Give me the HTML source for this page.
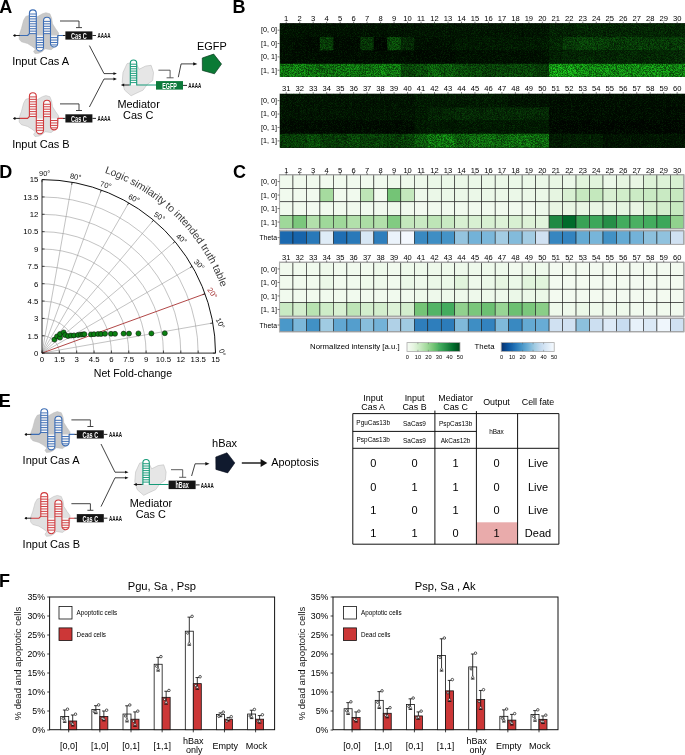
<!DOCTYPE html>
<html lang="en"><head><meta charset="utf-8"><title>Figure</title>
<style>html,body{margin:0;padding:0;background:#fff}svg{display:block}text{font-family:'Liberation Sans', sans-serif}</style>
</head><body>
<svg width="685" height="755" viewBox="0 0 685 755">
<defs><filter id="speckle" x="0" y="0" width="1" height="1" color-interpolation-filters="sRGB"><feTurbulence type="fractalNoise" baseFrequency="1.37" numOctaves="2" seed="11" result="n"/><feColorMatrix in="n" type="matrix" values="3.0 0 0 0 -1.0  3.0 0 0 0 -1.0  3.0 0 0 0 -1.0  0 0 0 0 1" result="sym"/><feComposite in="SourceGraphic" in2="sym" operator="arithmetic" k1="0.8" k2="0.6" k3="0" k4="0" result="t1"/><feColorMatrix in="n" type="matrix" values="0 3.0 0 0 -1.0  0 3.0 0 0 -1.0  0 3.0 0 0 -1.0  0 0 0 0 1" result="m0"/><feComponentTransfer in="m0" result="m1"><feFuncR type="gamma" exponent="3" amplitude="0.15" offset="0"/><feFuncG type="gamma" exponent="3" amplitude="1" offset="0"/><feFuncB type="gamma" exponent="3" amplitude="0.15" offset="0"/></feComponentTransfer><feComposite in="t1" in2="m1" operator="arithmetic" k1="0" k2="1" k3="0.08" k4="0"/></filter></defs>
<rect width="685" height="755" fill="#fff"/>
<text x="-0.70" y="12.70" font-size="18" text-anchor="start" font-weight="bold" fill="#000" >A</text>
<text x="232.50" y="12.80" font-size="18" text-anchor="start" font-weight="bold" fill="#000" >B</text>
<text x="233.00" y="178.10" font-size="18" text-anchor="start" font-weight="bold" fill="#000" >C</text>
<text x="-0.80" y="177.80" font-size="18" text-anchor="start" font-weight="bold" fill="#000" >D</text>
<text x="-1.20" y="406.90" font-size="18" text-anchor="start" font-weight="bold" fill="#000" >E</text>
<text x="-1.00" y="587.10" font-size="18" text-anchor="start" font-weight="bold" fill="#000" >F</text>
<g transform="translate(0.00,0.00)">
<polygon points="19.2,34.8 21.4,28.6 23.6,20.3 25.8,16.4 28.8,15.5 33.0,15.8 37.2,16.8 42.4,13.8 45.9,12.7 49.9,13.8 51.6,18.1 52.5,23.8 55.5,28.6 58.6,33.0 58.2,40.0 55.5,46.2 51.2,49.7 45.0,48.8 42.4,51.4 38.9,53.2 35.0,53.6 33.6,51.4 35.5,49.0 31.9,46.2 27.5,43.5 21.4,41.8 19.2,39.2" fill="#c9c9c9" stroke="#b8b8b8" stroke-width="0.5" stroke-linejoin="round"/>
<path d="M29.4,33.5V13.35A3.45,3.45 0 0 1 36.3,13.35V33.5Z M36.3,35.5V47.4A3.6,3.6 0 0 0 43.5,47.4V35.5Z M43.5,33.5V20.8A3.5,3.5 0 0 1 50.5,20.8V33.5Z M50.5,35.5V43.4A3.6,3.6 0 0 0 57.7,43.4V35.5Z" fill="#ffffff" fill-opacity="0.85"/>
<path d="M29.40,14.00H36.30M29.40,16.45H36.30M29.40,18.90H36.30M29.40,21.35H36.30M29.40,23.80H36.30M29.40,26.25H36.30M29.40,28.70H36.30M29.40,31.15H36.30M29.40,33.60H36.30" stroke="#3b6cb4" stroke-width="0.95" fill="none"/>
<path d="M36.30,37.60H43.50M36.30,40.05H43.50M36.30,42.50H43.50M36.30,44.95H43.50M36.30,47.40H43.50" stroke="#3b6cb4" stroke-width="0.95" fill="none"/>
<path d="M43.50,21.40H50.50M43.50,23.85H50.50M43.50,26.30H50.50M43.50,28.75H50.50M43.50,31.20H50.50M43.50,33.65H50.50" stroke="#3b6cb4" stroke-width="0.95" fill="none"/>
<path d="M50.50,37.60H57.70M50.50,40.05H57.70M50.50,42.50H57.70M50.50,44.95H57.70" stroke="#3b6cb4" stroke-width="0.95" fill="none"/>
<path d="M19.6,35.5H27.6L29.4,33.6V13.35A3.45,3.45 0 0 1 36.3,13.35V47.4A3.6,3.6 0 0 0 43.5,47.4V20.8A3.5,3.5 0 0 1 50.5,20.8V43.4A3.6,3.6 0 0 0 57.7,43.4V35.5H63.2" fill="none" stroke="#3b6cb4" stroke-width="1.1" stroke-linejoin="round"/>
<path d="M15,35.5H19.8M63,35.5H65.5M92.4,35.5H96" stroke="#111" stroke-width="0.9" fill="none"/>
<path d="M12.9,35.5L15.4,34.2V36.8Z" fill="#111"/><circle cx="14.6" cy="35.5" r="1.0" fill="#111"/>
<rect x="65.4" y="31.4" width="27" height="8.2" fill="#151515"/>
<text transform="translate(78.9,38.9) scale(0.6,1)" font-size="9.2" font-weight="bold" text-anchor="middle" fill="#fff">Cas C</text>
<text transform="translate(97.5,38.1) scale(0.62,1)" font-size="7.3" font-weight="bold" fill="#111">AAAA</text>
<path d="M60,21.0H79V27.4M76,27.6H82" stroke="#222" stroke-width="0.85" fill="none"/>
</g>
<g transform="translate(0.00,82.90)">
<polygon points="19.2,34.8 21.4,28.6 23.6,20.3 25.8,16.4 28.8,15.5 33.0,15.8 37.2,16.8 42.4,13.8 45.9,12.7 49.9,13.8 51.6,18.1 52.5,23.8 55.5,28.6 58.6,33.0 58.2,40.0 55.5,46.2 51.2,49.7 45.0,48.8 42.4,51.4 38.9,53.2 35.0,53.6 33.6,51.4 35.5,49.0 31.9,46.2 27.5,43.5 21.4,41.8 19.2,39.2" fill="#e0e0e0" stroke="#b8b8b8" stroke-width="0.5" stroke-linejoin="round"/>
<path d="M29.4,33.5V13.35A3.45,3.45 0 0 1 36.3,13.35V33.5Z M36.3,35.5V47.4A3.6,3.6 0 0 0 43.5,47.4V35.5Z M43.5,33.5V20.8A3.5,3.5 0 0 1 50.5,20.8V33.5Z M50.5,35.5V43.4A3.6,3.6 0 0 0 57.7,43.4V35.5Z" fill="#ffffff" fill-opacity="0.85"/>
<path d="M29.40,14.00H36.30M29.40,16.45H36.30M29.40,18.90H36.30M29.40,21.35H36.30M29.40,23.80H36.30M29.40,26.25H36.30M29.40,28.70H36.30M29.40,31.15H36.30M29.40,33.60H36.30" stroke="#cf3a3d" stroke-width="0.95" fill="none"/>
<path d="M36.30,37.60H43.50M36.30,40.05H43.50M36.30,42.50H43.50M36.30,44.95H43.50M36.30,47.40H43.50" stroke="#cf3a3d" stroke-width="0.95" fill="none"/>
<path d="M43.50,21.40H50.50M43.50,23.85H50.50M43.50,26.30H50.50M43.50,28.75H50.50M43.50,31.20H50.50M43.50,33.65H50.50" stroke="#cf3a3d" stroke-width="0.95" fill="none"/>
<path d="M50.50,37.60H57.70M50.50,40.05H57.70M50.50,42.50H57.70M50.50,44.95H57.70" stroke="#cf3a3d" stroke-width="0.95" fill="none"/>
<path d="M19.6,35.5H27.6L29.4,33.6V13.35A3.45,3.45 0 0 1 36.3,13.35V47.4A3.6,3.6 0 0 0 43.5,47.4V20.8A3.5,3.5 0 0 1 50.5,20.8V43.4A3.6,3.6 0 0 0 57.7,43.4V35.5H63.2" fill="none" stroke="#cf3a3d" stroke-width="1.1" stroke-linejoin="round"/>
<path d="M15,35.5H19.8M63,35.5H65.5M92.4,35.5H96" stroke="#111" stroke-width="0.9" fill="none"/>
<path d="M12.9,35.5L15.4,34.2V36.8Z" fill="#111"/><circle cx="14.6" cy="35.5" r="1.0" fill="#111"/>
<rect x="65.4" y="31.4" width="27" height="8.2" fill="#151515"/>
<text transform="translate(78.9,38.9) scale(0.6,1)" font-size="9.2" font-weight="bold" text-anchor="middle" fill="#fff">Cas C</text>
<text transform="translate(97.5,38.1) scale(0.62,1)" font-size="7.3" font-weight="bold" fill="#111">AAAA</text>
<path d="M60,21.0H79V27.4M76,27.6H82" stroke="#222" stroke-width="0.85" fill="none"/>
</g>
<text x="12.20" y="65.00" font-size="11.0" text-anchor="start" font-weight="normal" fill="#000" >Input Cas A</text>
<text x="12.20" y="148.40" font-size="11.0" text-anchor="start" font-weight="normal" fill="#000" >Input Cas B</text>
<path d="M89.4,45.6L104,73.6H114.5M89.4,107L104,79H114.5" fill="none" stroke="#111" stroke-width="0.8"/>
<path d="M116.90,73.60L113.45,74.98L113.45,72.22Z" fill="#111"/>
<path d="M116.90,79.00L113.45,80.38L113.45,77.62Z" fill="#111"/>
<g transform="translate(0.00,0.00)">
<polygon points="127.0,63.7 123.0,72.5 122.2,82.1 124.6,90.1 131.1,95.8 135.9,93.4 143.1,90.1 147.1,84.5 152.7,80.5 153.5,72.5 151.1,65.3 145.5,66.1 139.1,69.3 136.7,64.5 132.0,62.5" fill="#e6e6e6" stroke="#bdbdbd" stroke-width="0.6" stroke-linejoin="round"/>
<path d="M130.3,85V63.2A3.2,3.2 0 0 1 136.7,63.2V85Z" fill="#fff" fill-opacity="0.85"/>
<path d="M130.30,64.20H136.70M130.30,66.50H136.70M130.30,68.80H136.70M130.30,71.10H136.70M130.30,73.40H136.70M130.30,75.70H136.70M130.30,78.00H136.70M130.30,80.30H136.70M130.30,82.60H136.70" stroke="#159a78" stroke-width="0.95" fill="none"/>
<path d="M129,85H130.3V63.2A3.2,3.2 0 0 1 136.7,63.2V85H156" fill="none" stroke="#159a78" stroke-width="1.1" stroke-linejoin="round"/>
<path d="M123,85H129.2M183,85.4H187" stroke="#111" stroke-width="0.9" fill="none"/>
<path d="M120.8,85L124.2,83.4V86.6Z" fill="#111"/>
<rect x="156" y="81.1" width="27" height="8.5" fill="#0b7a3a"/>
<text transform="translate(169.5,88.55) scale(0.63,1)" font-size="8.5" font-weight="bold" text-anchor="middle" fill="#fff">EGFP</text>
<text transform="translate(188.2,88.0) scale(0.62,1)" font-size="7.3" font-weight="bold" fill="#111">AAAA</text>
<path d="M158.4,70.2H170.1V77.6M166.6,77.8H173.6" stroke="#333" stroke-width="0.8" fill="none"/>
</g>
<text x="138.60" y="107.60" font-size="10.9" text-anchor="middle" font-weight="normal" fill="#000" >Mediator</text>
<text x="138.20" y="119.30" font-size="10.9" text-anchor="middle" font-weight="normal" fill="#000" >Cas C</text>
<path d="M178.3,77.2L181.1,63.9H195" fill="none" stroke="#111" stroke-width="0.8"/>
<path d="M197.40,63.90L193.20,65.58L193.20,62.22Z" fill="#111"/>
<polygon points="213.7,54.1 221.5,64.05 214.45,73.8 202.4,70.4 202.3,58" fill="#0b7a35" stroke="#0a3a1e" stroke-width="0.7" stroke-linejoin="round"/>
<text x="197.00" y="49.70" font-size="10.9" text-anchor="start" font-weight="normal" fill="#000" >EGFP</text>
<g id="bimg1">
<rect x="279.90" y="23.50" width="13.38" height="13.80" fill="#000d00"/>
<rect x="292.98" y="23.50" width="13.78" height="13.80" fill="#000d00"/>
<rect x="306.46" y="23.50" width="13.78" height="13.80" fill="#000d00"/>
<rect x="319.94" y="23.50" width="13.78" height="13.80" fill="#000d00"/>
<rect x="333.42" y="23.50" width="13.78" height="13.80" fill="#000d00"/>
<rect x="346.90" y="23.50" width="13.78" height="13.80" fill="#000d00"/>
<rect x="360.38" y="23.50" width="13.78" height="13.80" fill="#000d00"/>
<rect x="373.86" y="23.50" width="13.78" height="13.80" fill="#000d00"/>
<rect x="387.34" y="23.50" width="13.78" height="13.80" fill="#010f01"/>
<rect x="400.82" y="23.50" width="13.78" height="13.80" fill="#010f01"/>
<rect x="414.30" y="23.50" width="13.78" height="13.80" fill="#011001"/>
<rect x="427.78" y="23.50" width="13.78" height="13.80" fill="#011001"/>
<rect x="441.26" y="23.50" width="13.78" height="13.80" fill="#011001"/>
<rect x="454.74" y="23.50" width="13.78" height="13.80" fill="#011001"/>
<rect x="468.22" y="23.50" width="13.78" height="13.80" fill="#011001"/>
<rect x="481.70" y="23.50" width="13.78" height="13.80" fill="#011001"/>
<rect x="495.18" y="23.50" width="13.78" height="13.80" fill="#011001"/>
<rect x="508.66" y="23.50" width="13.78" height="13.80" fill="#011001"/>
<rect x="522.14" y="23.50" width="13.78" height="13.80" fill="#011001"/>
<rect x="535.62" y="23.50" width="13.78" height="13.80" fill="#011001"/>
<rect x="549.10" y="23.50" width="13.78" height="13.80" fill="#031b03"/>
<rect x="562.58" y="23.50" width="13.78" height="13.80" fill="#031b03"/>
<rect x="576.06" y="23.50" width="13.78" height="13.80" fill="#031f03"/>
<rect x="589.54" y="23.50" width="13.78" height="13.80" fill="#031f03"/>
<rect x="603.02" y="23.50" width="13.78" height="13.80" fill="#031d03"/>
<rect x="616.50" y="23.50" width="13.78" height="13.80" fill="#031f03"/>
<rect x="629.98" y="23.50" width="13.78" height="13.80" fill="#031d03"/>
<rect x="643.46" y="23.50" width="13.78" height="13.80" fill="#031f03"/>
<rect x="656.94" y="23.50" width="13.78" height="13.80" fill="#031f03"/>
<rect x="670.42" y="23.50" width="14.58" height="13.80" fill="#031f03"/>
<rect x="279.90" y="37.00" width="13.38" height="13.70" fill="#000c00"/>
<rect x="292.98" y="37.00" width="13.78" height="13.70" fill="#000900"/>
<rect x="306.46" y="37.00" width="13.78" height="13.70" fill="#000700"/>
<rect x="319.94" y="37.00" width="13.78" height="13.70" fill="#063406"/>
<rect x="333.42" y="37.00" width="13.78" height="13.70" fill="#000700"/>
<rect x="346.90" y="37.00" width="13.78" height="13.70" fill="#000700"/>
<rect x="360.38" y="37.00" width="13.78" height="13.70" fill="#052d05"/>
<rect x="373.86" y="37.00" width="13.78" height="13.70" fill="#000400"/>
<rect x="387.34" y="37.00" width="13.78" height="13.70" fill="#084008"/>
<rect x="400.82" y="37.00" width="13.78" height="13.70" fill="#042204"/>
<rect x="414.30" y="37.00" width="13.78" height="13.70" fill="#000c00"/>
<rect x="427.78" y="37.00" width="13.78" height="13.70" fill="#000c00"/>
<rect x="441.26" y="37.00" width="13.78" height="13.70" fill="#000c00"/>
<rect x="454.74" y="37.00" width="13.78" height="13.70" fill="#011401"/>
<rect x="468.22" y="37.00" width="13.78" height="13.70" fill="#011401"/>
<rect x="481.70" y="37.00" width="13.78" height="13.70" fill="#011401"/>
<rect x="495.18" y="37.00" width="13.78" height="13.70" fill="#011401"/>
<rect x="508.66" y="37.00" width="13.78" height="13.70" fill="#011401"/>
<rect x="522.14" y="37.00" width="13.78" height="13.70" fill="#011401"/>
<rect x="535.62" y="37.00" width="13.78" height="13.70" fill="#011401"/>
<rect x="549.10" y="37.00" width="13.78" height="13.70" fill="#032103"/>
<rect x="562.58" y="37.00" width="13.78" height="13.70" fill="#063006"/>
<rect x="576.06" y="37.00" width="13.78" height="13.70" fill="#073707"/>
<rect x="589.54" y="37.00" width="13.78" height="13.70" fill="#073707"/>
<rect x="603.02" y="37.00" width="13.78" height="13.70" fill="#063206"/>
<rect x="616.50" y="37.00" width="13.78" height="13.70" fill="#063206"/>
<rect x="629.98" y="37.00" width="13.78" height="13.70" fill="#063206"/>
<rect x="643.46" y="37.00" width="13.78" height="13.70" fill="#063206"/>
<rect x="656.94" y="37.00" width="13.78" height="13.70" fill="#063206"/>
<rect x="670.42" y="37.00" width="14.58" height="13.70" fill="#063206"/>
<rect x="279.90" y="50.40" width="13.38" height="13.70" fill="#000900"/>
<rect x="292.98" y="50.40" width="13.78" height="13.70" fill="#000900"/>
<rect x="306.46" y="50.40" width="13.78" height="13.70" fill="#000900"/>
<rect x="319.94" y="50.40" width="13.78" height="13.70" fill="#000900"/>
<rect x="333.42" y="50.40" width="13.78" height="13.70" fill="#000900"/>
<rect x="346.90" y="50.40" width="13.78" height="13.70" fill="#000900"/>
<rect x="360.38" y="50.40" width="13.78" height="13.70" fill="#000900"/>
<rect x="373.86" y="50.40" width="13.78" height="13.70" fill="#000900"/>
<rect x="387.34" y="50.40" width="13.78" height="13.70" fill="#000b00"/>
<rect x="400.82" y="50.40" width="13.78" height="13.70" fill="#000900"/>
<rect x="414.30" y="50.40" width="13.78" height="13.70" fill="#000700"/>
<rect x="427.78" y="50.40" width="13.78" height="13.70" fill="#000700"/>
<rect x="441.26" y="50.40" width="13.78" height="13.70" fill="#000700"/>
<rect x="454.74" y="50.40" width="13.78" height="13.70" fill="#000c00"/>
<rect x="468.22" y="50.40" width="13.78" height="13.70" fill="#000c00"/>
<rect x="481.70" y="50.40" width="13.78" height="13.70" fill="#000c00"/>
<rect x="495.18" y="50.40" width="13.78" height="13.70" fill="#000c00"/>
<rect x="508.66" y="50.40" width="13.78" height="13.70" fill="#000c00"/>
<rect x="522.14" y="50.40" width="13.78" height="13.70" fill="#000c00"/>
<rect x="535.62" y="50.40" width="13.78" height="13.70" fill="#000c00"/>
<rect x="549.10" y="50.40" width="13.78" height="13.70" fill="#021902"/>
<rect x="562.58" y="50.40" width="13.78" height="13.70" fill="#031d03"/>
<rect x="576.06" y="50.40" width="13.78" height="13.70" fill="#031f03"/>
<rect x="589.54" y="50.40" width="13.78" height="13.70" fill="#031f03"/>
<rect x="603.02" y="50.40" width="13.78" height="13.70" fill="#031f03"/>
<rect x="616.50" y="50.40" width="13.78" height="13.70" fill="#032103"/>
<rect x="629.98" y="50.40" width="13.78" height="13.70" fill="#031f03"/>
<rect x="643.46" y="50.40" width="13.78" height="13.70" fill="#032103"/>
<rect x="656.94" y="50.40" width="13.78" height="13.70" fill="#032103"/>
<rect x="670.42" y="50.40" width="14.58" height="13.70" fill="#042304"/>
<rect x="279.90" y="63.80" width="13.38" height="13.10" fill="#0f6e0f"/>
<rect x="292.98" y="63.80" width="13.78" height="13.10" fill="#107410"/>
<rect x="306.46" y="63.80" width="13.78" height="13.10" fill="#0e690e"/>
<rect x="319.94" y="63.80" width="13.78" height="13.10" fill="#0e640e"/>
<rect x="333.42" y="63.80" width="13.78" height="13.10" fill="#0e690e"/>
<rect x="346.90" y="63.80" width="13.78" height="13.10" fill="#0e690e"/>
<rect x="360.38" y="63.80" width="13.78" height="13.10" fill="#0e640e"/>
<rect x="373.86" y="63.80" width="13.78" height="13.10" fill="#0f6e0f"/>
<rect x="387.34" y="63.80" width="13.78" height="13.10" fill="#0e690e"/>
<rect x="400.82" y="63.80" width="13.78" height="13.10" fill="#083e08"/>
<rect x="414.30" y="63.80" width="13.78" height="13.10" fill="#094409"/>
<rect x="427.78" y="63.80" width="13.78" height="13.10" fill="#0b570b"/>
<rect x="441.26" y="63.80" width="13.78" height="13.10" fill="#0b500b"/>
<rect x="454.74" y="63.80" width="13.78" height="13.10" fill="#094409"/>
<rect x="468.22" y="63.80" width="13.78" height="13.10" fill="#083e08"/>
<rect x="481.70" y="63.80" width="13.78" height="13.10" fill="#073807"/>
<rect x="495.18" y="63.80" width="13.78" height="13.10" fill="#083e08"/>
<rect x="508.66" y="63.80" width="13.78" height="13.10" fill="#083e08"/>
<rect x="522.14" y="63.80" width="13.78" height="13.10" fill="#083e08"/>
<rect x="535.62" y="63.80" width="13.78" height="13.10" fill="#063206"/>
<rect x="549.10" y="63.80" width="13.78" height="13.10" fill="#148e14"/>
<rect x="562.58" y="63.80" width="13.78" height="13.10" fill="#148e14"/>
<rect x="576.06" y="63.80" width="13.78" height="13.10" fill="#117e11"/>
<rect x="589.54" y="63.80" width="13.78" height="13.10" fill="#117e11"/>
<rect x="603.02" y="63.80" width="13.78" height="13.10" fill="#117e11"/>
<rect x="616.50" y="63.80" width="13.78" height="13.10" fill="#117e11"/>
<rect x="629.98" y="63.80" width="13.78" height="13.10" fill="#117e11"/>
<rect x="643.46" y="63.80" width="13.78" height="13.10" fill="#117e11"/>
<rect x="656.94" y="63.80" width="13.78" height="13.10" fill="#117e11"/>
<rect x="670.42" y="63.80" width="14.58" height="13.10" fill="#107410"/>
</g>
<use href="#bimg1" filter="url(#speckle)"/>
<text x="286.24" y="21.00" font-size="7.6" text-anchor="middle" font-weight="normal" fill="#000" >1</text>
<line x1="286.24" y1="21.70" x2="286.24" y2="23.50" stroke="#222" stroke-width="0.6"/>
<text x="299.72" y="21.00" font-size="7.6" text-anchor="middle" font-weight="normal" fill="#000" >2</text>
<line x1="299.72" y1="21.70" x2="299.72" y2="23.50" stroke="#222" stroke-width="0.6"/>
<text x="313.20" y="21.00" font-size="7.6" text-anchor="middle" font-weight="normal" fill="#000" >3</text>
<line x1="313.20" y1="21.70" x2="313.20" y2="23.50" stroke="#222" stroke-width="0.6"/>
<text x="326.68" y="21.00" font-size="7.6" text-anchor="middle" font-weight="normal" fill="#000" >4</text>
<line x1="326.68" y1="21.70" x2="326.68" y2="23.50" stroke="#222" stroke-width="0.6"/>
<text x="340.16" y="21.00" font-size="7.6" text-anchor="middle" font-weight="normal" fill="#000" >5</text>
<line x1="340.16" y1="21.70" x2="340.16" y2="23.50" stroke="#222" stroke-width="0.6"/>
<text x="353.64" y="21.00" font-size="7.6" text-anchor="middle" font-weight="normal" fill="#000" >6</text>
<line x1="353.64" y1="21.70" x2="353.64" y2="23.50" stroke="#222" stroke-width="0.6"/>
<text x="367.12" y="21.00" font-size="7.6" text-anchor="middle" font-weight="normal" fill="#000" >7</text>
<line x1="367.12" y1="21.70" x2="367.12" y2="23.50" stroke="#222" stroke-width="0.6"/>
<text x="380.60" y="21.00" font-size="7.6" text-anchor="middle" font-weight="normal" fill="#000" >8</text>
<line x1="380.60" y1="21.70" x2="380.60" y2="23.50" stroke="#222" stroke-width="0.6"/>
<text x="394.08" y="21.00" font-size="7.6" text-anchor="middle" font-weight="normal" fill="#000" >9</text>
<line x1="394.08" y1="21.70" x2="394.08" y2="23.50" stroke="#222" stroke-width="0.6"/>
<text x="407.56" y="21.00" font-size="7.6" text-anchor="middle" font-weight="normal" fill="#000" >10</text>
<line x1="407.56" y1="21.70" x2="407.56" y2="23.50" stroke="#222" stroke-width="0.6"/>
<text x="421.04" y="21.00" font-size="7.6" text-anchor="middle" font-weight="normal" fill="#000" >11</text>
<line x1="421.04" y1="21.70" x2="421.04" y2="23.50" stroke="#222" stroke-width="0.6"/>
<text x="434.52" y="21.00" font-size="7.6" text-anchor="middle" font-weight="normal" fill="#000" >12</text>
<line x1="434.52" y1="21.70" x2="434.52" y2="23.50" stroke="#222" stroke-width="0.6"/>
<text x="448.00" y="21.00" font-size="7.6" text-anchor="middle" font-weight="normal" fill="#000" >13</text>
<line x1="448.00" y1="21.70" x2="448.00" y2="23.50" stroke="#222" stroke-width="0.6"/>
<text x="461.48" y="21.00" font-size="7.6" text-anchor="middle" font-weight="normal" fill="#000" >14</text>
<line x1="461.48" y1="21.70" x2="461.48" y2="23.50" stroke="#222" stroke-width="0.6"/>
<text x="474.96" y="21.00" font-size="7.6" text-anchor="middle" font-weight="normal" fill="#000" >15</text>
<line x1="474.96" y1="21.70" x2="474.96" y2="23.50" stroke="#222" stroke-width="0.6"/>
<text x="488.44" y="21.00" font-size="7.6" text-anchor="middle" font-weight="normal" fill="#000" >16</text>
<line x1="488.44" y1="21.70" x2="488.44" y2="23.50" stroke="#222" stroke-width="0.6"/>
<text x="501.92" y="21.00" font-size="7.6" text-anchor="middle" font-weight="normal" fill="#000" >17</text>
<line x1="501.92" y1="21.70" x2="501.92" y2="23.50" stroke="#222" stroke-width="0.6"/>
<text x="515.40" y="21.00" font-size="7.6" text-anchor="middle" font-weight="normal" fill="#000" >18</text>
<line x1="515.40" y1="21.70" x2="515.40" y2="23.50" stroke="#222" stroke-width="0.6"/>
<text x="528.88" y="21.00" font-size="7.6" text-anchor="middle" font-weight="normal" fill="#000" >19</text>
<line x1="528.88" y1="21.70" x2="528.88" y2="23.50" stroke="#222" stroke-width="0.6"/>
<text x="542.36" y="21.00" font-size="7.6" text-anchor="middle" font-weight="normal" fill="#000" >20</text>
<line x1="542.36" y1="21.70" x2="542.36" y2="23.50" stroke="#222" stroke-width="0.6"/>
<text x="555.84" y="21.00" font-size="7.6" text-anchor="middle" font-weight="normal" fill="#000" >21</text>
<line x1="555.84" y1="21.70" x2="555.84" y2="23.50" stroke="#222" stroke-width="0.6"/>
<text x="569.32" y="21.00" font-size="7.6" text-anchor="middle" font-weight="normal" fill="#000" >22</text>
<line x1="569.32" y1="21.70" x2="569.32" y2="23.50" stroke="#222" stroke-width="0.6"/>
<text x="582.80" y="21.00" font-size="7.6" text-anchor="middle" font-weight="normal" fill="#000" >23</text>
<line x1="582.80" y1="21.70" x2="582.80" y2="23.50" stroke="#222" stroke-width="0.6"/>
<text x="596.28" y="21.00" font-size="7.6" text-anchor="middle" font-weight="normal" fill="#000" >24</text>
<line x1="596.28" y1="21.70" x2="596.28" y2="23.50" stroke="#222" stroke-width="0.6"/>
<text x="609.76" y="21.00" font-size="7.6" text-anchor="middle" font-weight="normal" fill="#000" >25</text>
<line x1="609.76" y1="21.70" x2="609.76" y2="23.50" stroke="#222" stroke-width="0.6"/>
<text x="623.24" y="21.00" font-size="7.6" text-anchor="middle" font-weight="normal" fill="#000" >26</text>
<line x1="623.24" y1="21.70" x2="623.24" y2="23.50" stroke="#222" stroke-width="0.6"/>
<text x="636.72" y="21.00" font-size="7.6" text-anchor="middle" font-weight="normal" fill="#000" >27</text>
<line x1="636.72" y1="21.70" x2="636.72" y2="23.50" stroke="#222" stroke-width="0.6"/>
<text x="650.20" y="21.00" font-size="7.6" text-anchor="middle" font-weight="normal" fill="#000" >28</text>
<line x1="650.20" y1="21.70" x2="650.20" y2="23.50" stroke="#222" stroke-width="0.6"/>
<text x="663.68" y="21.00" font-size="7.6" text-anchor="middle" font-weight="normal" fill="#000" >29</text>
<line x1="663.68" y1="21.70" x2="663.68" y2="23.50" stroke="#222" stroke-width="0.6"/>
<text x="677.16" y="21.00" font-size="7.6" text-anchor="middle" font-weight="normal" fill="#000" >30</text>
<line x1="677.16" y1="21.70" x2="677.16" y2="23.50" stroke="#222" stroke-width="0.6"/>
<text x="277.00" y="32.48" font-size="7.2" text-anchor="end" font-weight="normal" fill="#000" >[0, 0]</text>
<line x1="277.6" y1="30.18" x2="279.50" y2="30.18" stroke="#222" stroke-width="0.6"/>
<text x="277.00" y="45.83" font-size="7.2" text-anchor="end" font-weight="normal" fill="#000" >[1, 0]</text>
<line x1="277.6" y1="43.53" x2="279.50" y2="43.53" stroke="#222" stroke-width="0.6"/>
<text x="277.00" y="59.17" font-size="7.2" text-anchor="end" font-weight="normal" fill="#000" >[0, 1]</text>
<line x1="277.6" y1="56.88" x2="279.50" y2="56.88" stroke="#222" stroke-width="0.6"/>
<text x="277.00" y="72.53" font-size="7.2" text-anchor="end" font-weight="normal" fill="#000" >[1, 1]</text>
<line x1="277.6" y1="70.23" x2="279.50" y2="70.23" stroke="#222" stroke-width="0.6"/>
<g id="bimg31">
<rect x="279.90" y="93.90" width="13.38" height="13.60" fill="#010f01"/>
<rect x="292.98" y="93.90" width="13.78" height="13.60" fill="#010f01"/>
<rect x="306.46" y="93.90" width="13.78" height="13.60" fill="#010f01"/>
<rect x="319.94" y="93.90" width="13.78" height="13.60" fill="#010f01"/>
<rect x="333.42" y="93.90" width="13.78" height="13.60" fill="#010f01"/>
<rect x="346.90" y="93.90" width="13.78" height="13.60" fill="#010f01"/>
<rect x="360.38" y="93.90" width="13.78" height="13.60" fill="#010f01"/>
<rect x="373.86" y="93.90" width="13.78" height="13.60" fill="#010f01"/>
<rect x="387.34" y="93.90" width="13.78" height="13.60" fill="#010f01"/>
<rect x="400.82" y="93.90" width="13.78" height="13.60" fill="#010f01"/>
<rect x="414.30" y="93.90" width="13.78" height="13.60" fill="#011401"/>
<rect x="427.78" y="93.90" width="13.78" height="13.60" fill="#011401"/>
<rect x="441.26" y="93.90" width="13.78" height="13.60" fill="#011401"/>
<rect x="454.74" y="93.90" width="13.78" height="13.60" fill="#011401"/>
<rect x="468.22" y="93.90" width="13.78" height="13.60" fill="#011401"/>
<rect x="481.70" y="93.90" width="13.78" height="13.60" fill="#011401"/>
<rect x="495.18" y="93.90" width="13.78" height="13.60" fill="#011401"/>
<rect x="508.66" y="93.90" width="13.78" height="13.60" fill="#010e01"/>
<rect x="522.14" y="93.90" width="13.78" height="13.60" fill="#010e01"/>
<rect x="535.62" y="93.90" width="13.78" height="13.60" fill="#010e01"/>
<rect x="549.10" y="93.90" width="13.78" height="13.60" fill="#000a00"/>
<rect x="562.58" y="93.90" width="13.78" height="13.60" fill="#000a00"/>
<rect x="576.06" y="93.90" width="13.78" height="13.60" fill="#000a00"/>
<rect x="589.54" y="93.90" width="13.78" height="13.60" fill="#000a00"/>
<rect x="603.02" y="93.90" width="13.78" height="13.60" fill="#000a00"/>
<rect x="616.50" y="93.90" width="13.78" height="13.60" fill="#000a00"/>
<rect x="629.98" y="93.90" width="13.78" height="13.60" fill="#000a00"/>
<rect x="643.46" y="93.90" width="13.78" height="13.60" fill="#000a00"/>
<rect x="656.94" y="93.90" width="13.78" height="13.60" fill="#000a00"/>
<rect x="670.42" y="93.90" width="14.58" height="13.60" fill="#000a00"/>
<rect x="279.90" y="107.20" width="13.38" height="13.60" fill="#010f01"/>
<rect x="292.98" y="107.20" width="13.78" height="13.60" fill="#010f01"/>
<rect x="306.46" y="107.20" width="13.78" height="13.60" fill="#010f01"/>
<rect x="319.94" y="107.20" width="13.78" height="13.60" fill="#010f01"/>
<rect x="333.42" y="107.20" width="13.78" height="13.60" fill="#010f01"/>
<rect x="346.90" y="107.20" width="13.78" height="13.60" fill="#010f01"/>
<rect x="360.38" y="107.20" width="13.78" height="13.60" fill="#010f01"/>
<rect x="373.86" y="107.20" width="13.78" height="13.60" fill="#010f01"/>
<rect x="387.34" y="107.20" width="13.78" height="13.60" fill="#010f01"/>
<rect x="400.82" y="107.20" width="13.78" height="13.60" fill="#010f01"/>
<rect x="414.30" y="107.20" width="13.78" height="13.60" fill="#011401"/>
<rect x="427.78" y="107.20" width="13.78" height="13.60" fill="#031b03"/>
<rect x="441.26" y="107.20" width="13.78" height="13.60" fill="#031f03"/>
<rect x="454.74" y="107.20" width="13.78" height="13.60" fill="#042204"/>
<rect x="468.22" y="107.20" width="13.78" height="13.60" fill="#042204"/>
<rect x="481.70" y="107.20" width="13.78" height="13.60" fill="#042204"/>
<rect x="495.18" y="107.20" width="13.78" height="13.60" fill="#042204"/>
<rect x="508.66" y="107.20" width="13.78" height="13.60" fill="#042204"/>
<rect x="522.14" y="107.20" width="13.78" height="13.60" fill="#042204"/>
<rect x="535.62" y="107.20" width="13.78" height="13.60" fill="#042204"/>
<rect x="549.10" y="107.20" width="13.78" height="13.60" fill="#000900"/>
<rect x="562.58" y="107.20" width="13.78" height="13.60" fill="#000900"/>
<rect x="576.06" y="107.20" width="13.78" height="13.60" fill="#000900"/>
<rect x="589.54" y="107.20" width="13.78" height="13.60" fill="#000900"/>
<rect x="603.02" y="107.20" width="13.78" height="13.60" fill="#000900"/>
<rect x="616.50" y="107.20" width="13.78" height="13.60" fill="#000900"/>
<rect x="629.98" y="107.20" width="13.78" height="13.60" fill="#000900"/>
<rect x="643.46" y="107.20" width="13.78" height="13.60" fill="#000900"/>
<rect x="656.94" y="107.20" width="13.78" height="13.60" fill="#000900"/>
<rect x="670.42" y="107.20" width="14.58" height="13.60" fill="#000900"/>
<rect x="279.90" y="120.50" width="13.38" height="13.60" fill="#000700"/>
<rect x="292.98" y="120.50" width="13.78" height="13.60" fill="#000700"/>
<rect x="306.46" y="120.50" width="13.78" height="13.60" fill="#000700"/>
<rect x="319.94" y="120.50" width="13.78" height="13.60" fill="#000700"/>
<rect x="333.42" y="120.50" width="13.78" height="13.60" fill="#000700"/>
<rect x="346.90" y="120.50" width="13.78" height="13.60" fill="#000700"/>
<rect x="360.38" y="120.50" width="13.78" height="13.60" fill="#000700"/>
<rect x="373.86" y="120.50" width="13.78" height="13.60" fill="#000700"/>
<rect x="387.34" y="120.50" width="13.78" height="13.60" fill="#000700"/>
<rect x="400.82" y="120.50" width="13.78" height="13.60" fill="#000700"/>
<rect x="414.30" y="120.50" width="13.78" height="13.60" fill="#011401"/>
<rect x="427.78" y="120.50" width="13.78" height="13.60" fill="#011401"/>
<rect x="441.26" y="120.50" width="13.78" height="13.60" fill="#011401"/>
<rect x="454.74" y="120.50" width="13.78" height="13.60" fill="#011401"/>
<rect x="468.22" y="120.50" width="13.78" height="13.60" fill="#011401"/>
<rect x="481.70" y="120.50" width="13.78" height="13.60" fill="#011401"/>
<rect x="495.18" y="120.50" width="13.78" height="13.60" fill="#011401"/>
<rect x="508.66" y="120.50" width="13.78" height="13.60" fill="#011401"/>
<rect x="522.14" y="120.50" width="13.78" height="13.60" fill="#011401"/>
<rect x="535.62" y="120.50" width="13.78" height="13.60" fill="#011401"/>
<rect x="549.10" y="120.50" width="13.78" height="13.60" fill="#000400"/>
<rect x="562.58" y="120.50" width="13.78" height="13.60" fill="#000400"/>
<rect x="576.06" y="120.50" width="13.78" height="13.60" fill="#000400"/>
<rect x="589.54" y="120.50" width="13.78" height="13.60" fill="#000400"/>
<rect x="603.02" y="120.50" width="13.78" height="13.60" fill="#000400"/>
<rect x="616.50" y="120.50" width="13.78" height="13.60" fill="#000400"/>
<rect x="629.98" y="120.50" width="13.78" height="13.60" fill="#000400"/>
<rect x="643.46" y="120.50" width="13.78" height="13.60" fill="#000400"/>
<rect x="656.94" y="120.50" width="13.78" height="13.60" fill="#000400"/>
<rect x="670.42" y="120.50" width="14.58" height="13.60" fill="#000400"/>
<rect x="279.90" y="133.80" width="13.38" height="13.80" fill="#063406"/>
<rect x="292.98" y="133.80" width="13.78" height="13.80" fill="#073907"/>
<rect x="306.46" y="133.80" width="13.78" height="13.80" fill="#084208"/>
<rect x="319.94" y="133.80" width="13.78" height="13.80" fill="#063406"/>
<rect x="333.42" y="133.80" width="13.78" height="13.80" fill="#063406"/>
<rect x="346.90" y="133.80" width="13.78" height="13.80" fill="#083e08"/>
<rect x="360.38" y="133.80" width="13.78" height="13.80" fill="#073907"/>
<rect x="373.86" y="133.80" width="13.78" height="13.80" fill="#073907"/>
<rect x="387.34" y="133.80" width="13.78" height="13.80" fill="#063406"/>
<rect x="400.82" y="133.80" width="13.78" height="13.80" fill="#073907"/>
<rect x="414.30" y="133.80" width="13.78" height="13.80" fill="#0b540b"/>
<rect x="427.78" y="133.80" width="13.78" height="13.80" fill="#0e690e"/>
<rect x="441.26" y="133.80" width="13.78" height="13.80" fill="#0f6e0f"/>
<rect x="454.74" y="133.80" width="13.78" height="13.80" fill="#0b540b"/>
<rect x="468.22" y="133.80" width="13.78" height="13.80" fill="#0d5f0d"/>
<rect x="481.70" y="133.80" width="13.78" height="13.80" fill="#0e640e"/>
<rect x="495.18" y="133.80" width="13.78" height="13.80" fill="#0c590c"/>
<rect x="508.66" y="133.80" width="13.78" height="13.80" fill="#0e640e"/>
<rect x="522.14" y="133.80" width="13.78" height="13.80" fill="#0e640e"/>
<rect x="535.62" y="133.80" width="13.78" height="13.80" fill="#0d5f0d"/>
<rect x="549.10" y="133.80" width="13.78" height="13.80" fill="#021502"/>
<rect x="562.58" y="133.80" width="13.78" height="13.80" fill="#021702"/>
<rect x="576.06" y="133.80" width="13.78" height="13.80" fill="#021902"/>
<rect x="589.54" y="133.80" width="13.78" height="13.80" fill="#021802"/>
<rect x="603.02" y="133.80" width="13.78" height="13.80" fill="#010e01"/>
<rect x="616.50" y="133.80" width="13.78" height="13.80" fill="#010e01"/>
<rect x="629.98" y="133.80" width="13.78" height="13.80" fill="#010f01"/>
<rect x="643.46" y="133.80" width="13.78" height="13.80" fill="#011001"/>
<rect x="656.94" y="133.80" width="13.78" height="13.80" fill="#011001"/>
<rect x="670.42" y="133.80" width="14.58" height="13.80" fill="#010f01"/>
</g>
<use href="#bimg31" filter="url(#speckle)"/>
<text x="286.24" y="91.40" font-size="7.6" text-anchor="middle" font-weight="normal" fill="#000" >31</text>
<line x1="286.24" y1="92.10" x2="286.24" y2="93.90" stroke="#222" stroke-width="0.6"/>
<text x="299.72" y="91.40" font-size="7.6" text-anchor="middle" font-weight="normal" fill="#000" >32</text>
<line x1="299.72" y1="92.10" x2="299.72" y2="93.90" stroke="#222" stroke-width="0.6"/>
<text x="313.20" y="91.40" font-size="7.6" text-anchor="middle" font-weight="normal" fill="#000" >33</text>
<line x1="313.20" y1="92.10" x2="313.20" y2="93.90" stroke="#222" stroke-width="0.6"/>
<text x="326.68" y="91.40" font-size="7.6" text-anchor="middle" font-weight="normal" fill="#000" >34</text>
<line x1="326.68" y1="92.10" x2="326.68" y2="93.90" stroke="#222" stroke-width="0.6"/>
<text x="340.16" y="91.40" font-size="7.6" text-anchor="middle" font-weight="normal" fill="#000" >35</text>
<line x1="340.16" y1="92.10" x2="340.16" y2="93.90" stroke="#222" stroke-width="0.6"/>
<text x="353.64" y="91.40" font-size="7.6" text-anchor="middle" font-weight="normal" fill="#000" >36</text>
<line x1="353.64" y1="92.10" x2="353.64" y2="93.90" stroke="#222" stroke-width="0.6"/>
<text x="367.12" y="91.40" font-size="7.6" text-anchor="middle" font-weight="normal" fill="#000" >37</text>
<line x1="367.12" y1="92.10" x2="367.12" y2="93.90" stroke="#222" stroke-width="0.6"/>
<text x="380.60" y="91.40" font-size="7.6" text-anchor="middle" font-weight="normal" fill="#000" >38</text>
<line x1="380.60" y1="92.10" x2="380.60" y2="93.90" stroke="#222" stroke-width="0.6"/>
<text x="394.08" y="91.40" font-size="7.6" text-anchor="middle" font-weight="normal" fill="#000" >39</text>
<line x1="394.08" y1="92.10" x2="394.08" y2="93.90" stroke="#222" stroke-width="0.6"/>
<text x="407.56" y="91.40" font-size="7.6" text-anchor="middle" font-weight="normal" fill="#000" >40</text>
<line x1="407.56" y1="92.10" x2="407.56" y2="93.90" stroke="#222" stroke-width="0.6"/>
<text x="421.04" y="91.40" font-size="7.6" text-anchor="middle" font-weight="normal" fill="#000" >41</text>
<line x1="421.04" y1="92.10" x2="421.04" y2="93.90" stroke="#222" stroke-width="0.6"/>
<text x="434.52" y="91.40" font-size="7.6" text-anchor="middle" font-weight="normal" fill="#000" >42</text>
<line x1="434.52" y1="92.10" x2="434.52" y2="93.90" stroke="#222" stroke-width="0.6"/>
<text x="448.00" y="91.40" font-size="7.6" text-anchor="middle" font-weight="normal" fill="#000" >43</text>
<line x1="448.00" y1="92.10" x2="448.00" y2="93.90" stroke="#222" stroke-width="0.6"/>
<text x="461.48" y="91.40" font-size="7.6" text-anchor="middle" font-weight="normal" fill="#000" >44</text>
<line x1="461.48" y1="92.10" x2="461.48" y2="93.90" stroke="#222" stroke-width="0.6"/>
<text x="474.96" y="91.40" font-size="7.6" text-anchor="middle" font-weight="normal" fill="#000" >45</text>
<line x1="474.96" y1="92.10" x2="474.96" y2="93.90" stroke="#222" stroke-width="0.6"/>
<text x="488.44" y="91.40" font-size="7.6" text-anchor="middle" font-weight="normal" fill="#000" >46</text>
<line x1="488.44" y1="92.10" x2="488.44" y2="93.90" stroke="#222" stroke-width="0.6"/>
<text x="501.92" y="91.40" font-size="7.6" text-anchor="middle" font-weight="normal" fill="#000" >47</text>
<line x1="501.92" y1="92.10" x2="501.92" y2="93.90" stroke="#222" stroke-width="0.6"/>
<text x="515.40" y="91.40" font-size="7.6" text-anchor="middle" font-weight="normal" fill="#000" >48</text>
<line x1="515.40" y1="92.10" x2="515.40" y2="93.90" stroke="#222" stroke-width="0.6"/>
<text x="528.88" y="91.40" font-size="7.6" text-anchor="middle" font-weight="normal" fill="#000" >49</text>
<line x1="528.88" y1="92.10" x2="528.88" y2="93.90" stroke="#222" stroke-width="0.6"/>
<text x="542.36" y="91.40" font-size="7.6" text-anchor="middle" font-weight="normal" fill="#000" >50</text>
<line x1="542.36" y1="92.10" x2="542.36" y2="93.90" stroke="#222" stroke-width="0.6"/>
<text x="555.84" y="91.40" font-size="7.6" text-anchor="middle" font-weight="normal" fill="#000" >51</text>
<line x1="555.84" y1="92.10" x2="555.84" y2="93.90" stroke="#222" stroke-width="0.6"/>
<text x="569.32" y="91.40" font-size="7.6" text-anchor="middle" font-weight="normal" fill="#000" >52</text>
<line x1="569.32" y1="92.10" x2="569.32" y2="93.90" stroke="#222" stroke-width="0.6"/>
<text x="582.80" y="91.40" font-size="7.6" text-anchor="middle" font-weight="normal" fill="#000" >53</text>
<line x1="582.80" y1="92.10" x2="582.80" y2="93.90" stroke="#222" stroke-width="0.6"/>
<text x="596.28" y="91.40" font-size="7.6" text-anchor="middle" font-weight="normal" fill="#000" >54</text>
<line x1="596.28" y1="92.10" x2="596.28" y2="93.90" stroke="#222" stroke-width="0.6"/>
<text x="609.76" y="91.40" font-size="7.6" text-anchor="middle" font-weight="normal" fill="#000" >55</text>
<line x1="609.76" y1="92.10" x2="609.76" y2="93.90" stroke="#222" stroke-width="0.6"/>
<text x="623.24" y="91.40" font-size="7.6" text-anchor="middle" font-weight="normal" fill="#000" >56</text>
<line x1="623.24" y1="92.10" x2="623.24" y2="93.90" stroke="#222" stroke-width="0.6"/>
<text x="636.72" y="91.40" font-size="7.6" text-anchor="middle" font-weight="normal" fill="#000" >57</text>
<line x1="636.72" y1="92.10" x2="636.72" y2="93.90" stroke="#222" stroke-width="0.6"/>
<text x="650.20" y="91.40" font-size="7.6" text-anchor="middle" font-weight="normal" fill="#000" >58</text>
<line x1="650.20" y1="92.10" x2="650.20" y2="93.90" stroke="#222" stroke-width="0.6"/>
<text x="663.68" y="91.40" font-size="7.6" text-anchor="middle" font-weight="normal" fill="#000" >59</text>
<line x1="663.68" y1="92.10" x2="663.68" y2="93.90" stroke="#222" stroke-width="0.6"/>
<text x="677.16" y="91.40" font-size="7.6" text-anchor="middle" font-weight="normal" fill="#000" >60</text>
<line x1="677.16" y1="92.10" x2="677.16" y2="93.90" stroke="#222" stroke-width="0.6"/>
<text x="277.00" y="102.91" font-size="7.2" text-anchor="end" font-weight="normal" fill="#000" >[0, 0]</text>
<line x1="277.6" y1="100.61" x2="279.50" y2="100.61" stroke="#222" stroke-width="0.6"/>
<text x="277.00" y="116.34" font-size="7.2" text-anchor="end" font-weight="normal" fill="#000" >[1, 0]</text>
<line x1="277.6" y1="114.04" x2="279.50" y2="114.04" stroke="#222" stroke-width="0.6"/>
<text x="277.00" y="129.76" font-size="7.2" text-anchor="end" font-weight="normal" fill="#000" >[0, 1]</text>
<line x1="277.6" y1="127.46" x2="279.50" y2="127.46" stroke="#222" stroke-width="0.6"/>
<text x="277.00" y="143.19" font-size="7.2" text-anchor="end" font-weight="normal" fill="#000" >[1, 1]</text>
<line x1="277.6" y1="140.89" x2="279.50" y2="140.89" stroke="#222" stroke-width="0.6"/>
<rect x="279.50" y="174.80" width="13.48" height="13.50" fill="#f1faee" stroke="#1a1a1a" stroke-width="0.55"/>
<rect x="292.98" y="174.80" width="13.48" height="13.50" fill="#f1faee" stroke="#1a1a1a" stroke-width="0.55"/>
<rect x="306.46" y="174.80" width="13.48" height="13.50" fill="#f1faee" stroke="#1a1a1a" stroke-width="0.55"/>
<rect x="319.94" y="174.80" width="13.48" height="13.50" fill="#f1faee" stroke="#1a1a1a" stroke-width="0.55"/>
<rect x="333.42" y="174.80" width="13.48" height="13.50" fill="#f1faee" stroke="#1a1a1a" stroke-width="0.55"/>
<rect x="346.90" y="174.80" width="13.48" height="13.50" fill="#f1faee" stroke="#1a1a1a" stroke-width="0.55"/>
<rect x="360.38" y="174.80" width="13.48" height="13.50" fill="#f1faee" stroke="#1a1a1a" stroke-width="0.55"/>
<rect x="373.86" y="174.80" width="13.48" height="13.50" fill="#f1faee" stroke="#1a1a1a" stroke-width="0.55"/>
<rect x="387.34" y="174.80" width="13.48" height="13.50" fill="#eef9eb" stroke="#1a1a1a" stroke-width="0.55"/>
<rect x="400.82" y="174.80" width="13.48" height="13.50" fill="#eef9eb" stroke="#1a1a1a" stroke-width="0.55"/>
<rect x="414.30" y="174.80" width="13.48" height="13.50" fill="#eef9eb" stroke="#1a1a1a" stroke-width="0.55"/>
<rect x="427.78" y="174.80" width="13.48" height="13.50" fill="#ebf8e8" stroke="#1a1a1a" stroke-width="0.55"/>
<rect x="441.26" y="174.80" width="13.48" height="13.50" fill="#ebf8e8" stroke="#1a1a1a" stroke-width="0.55"/>
<rect x="454.74" y="174.80" width="13.48" height="13.50" fill="#ebf8e8" stroke="#1a1a1a" stroke-width="0.55"/>
<rect x="468.22" y="174.80" width="13.48" height="13.50" fill="#ebf8e8" stroke="#1a1a1a" stroke-width="0.55"/>
<rect x="481.70" y="174.80" width="13.48" height="13.50" fill="#ebf8e8" stroke="#1a1a1a" stroke-width="0.55"/>
<rect x="495.18" y="174.80" width="13.48" height="13.50" fill="#ebf8e8" stroke="#1a1a1a" stroke-width="0.55"/>
<rect x="508.66" y="174.80" width="13.48" height="13.50" fill="#ebf8e8" stroke="#1a1a1a" stroke-width="0.55"/>
<rect x="522.14" y="174.80" width="13.48" height="13.50" fill="#ebf8e8" stroke="#1a1a1a" stroke-width="0.55"/>
<rect x="535.62" y="174.80" width="13.48" height="13.50" fill="#ebf8e8" stroke="#1a1a1a" stroke-width="0.55"/>
<rect x="549.10" y="174.80" width="13.48" height="13.50" fill="#e9f6e4" stroke="#1a1a1a" stroke-width="0.55"/>
<rect x="562.58" y="174.80" width="13.48" height="13.50" fill="#ebf8e8" stroke="#1a1a1a" stroke-width="0.55"/>
<rect x="576.06" y="174.80" width="13.48" height="13.50" fill="#e1f4dc" stroke="#1a1a1a" stroke-width="0.55"/>
<rect x="589.54" y="174.80" width="13.48" height="13.50" fill="#e1f4dc" stroke="#1a1a1a" stroke-width="0.55"/>
<rect x="603.02" y="174.80" width="13.48" height="13.50" fill="#ebf8e8" stroke="#1a1a1a" stroke-width="0.55"/>
<rect x="616.50" y="174.80" width="13.48" height="13.50" fill="#e6f5e1" stroke="#1a1a1a" stroke-width="0.55"/>
<rect x="629.98" y="174.80" width="13.48" height="13.50" fill="#e9f6e4" stroke="#1a1a1a" stroke-width="0.55"/>
<rect x="643.46" y="174.80" width="13.48" height="13.50" fill="#ddf2d7" stroke="#1a1a1a" stroke-width="0.55"/>
<rect x="656.94" y="174.80" width="13.48" height="13.50" fill="#ddf2d7" stroke="#1a1a1a" stroke-width="0.55"/>
<rect x="670.42" y="174.80" width="13.48" height="13.50" fill="#d8f0d2" stroke="#1a1a1a" stroke-width="0.55"/>
<rect x="279.50" y="188.30" width="13.48" height="13.50" fill="#f1faee" stroke="#1a1a1a" stroke-width="0.55"/>
<rect x="292.98" y="188.30" width="13.48" height="13.50" fill="#f1faee" stroke="#1a1a1a" stroke-width="0.55"/>
<rect x="306.46" y="188.30" width="13.48" height="13.50" fill="#f1faee" stroke="#1a1a1a" stroke-width="0.55"/>
<rect x="319.94" y="188.30" width="13.48" height="13.50" fill="#a6db9f" stroke="#1a1a1a" stroke-width="0.55"/>
<rect x="333.42" y="188.30" width="13.48" height="13.50" fill="#f1faee" stroke="#1a1a1a" stroke-width="0.55"/>
<rect x="346.90" y="188.30" width="13.48" height="13.50" fill="#f1faee" stroke="#1a1a1a" stroke-width="0.55"/>
<rect x="360.38" y="188.30" width="13.48" height="13.50" fill="#bee5b7" stroke="#1a1a1a" stroke-width="0.55"/>
<rect x="373.86" y="188.30" width="13.48" height="13.50" fill="#f1faee" stroke="#1a1a1a" stroke-width="0.55"/>
<rect x="387.34" y="188.30" width="13.48" height="13.50" fill="#74c476" stroke="#1a1a1a" stroke-width="0.55"/>
<rect x="400.82" y="188.30" width="13.48" height="13.50" fill="#c4e8bd" stroke="#1a1a1a" stroke-width="0.55"/>
<rect x="414.30" y="188.30" width="13.48" height="13.50" fill="#eef9eb" stroke="#1a1a1a" stroke-width="0.55"/>
<rect x="427.78" y="188.30" width="13.48" height="13.50" fill="#ebf8e8" stroke="#1a1a1a" stroke-width="0.55"/>
<rect x="441.26" y="188.30" width="13.48" height="13.50" fill="#ebf8e8" stroke="#1a1a1a" stroke-width="0.55"/>
<rect x="454.74" y="188.30" width="13.48" height="13.50" fill="#ebf8e8" stroke="#1a1a1a" stroke-width="0.55"/>
<rect x="468.22" y="188.30" width="13.48" height="13.50" fill="#ebf8e8" stroke="#1a1a1a" stroke-width="0.55"/>
<rect x="481.70" y="188.30" width="13.48" height="13.50" fill="#ebf8e8" stroke="#1a1a1a" stroke-width="0.55"/>
<rect x="495.18" y="188.30" width="13.48" height="13.50" fill="#ebf8e8" stroke="#1a1a1a" stroke-width="0.55"/>
<rect x="508.66" y="188.30" width="13.48" height="13.50" fill="#ebf8e8" stroke="#1a1a1a" stroke-width="0.55"/>
<rect x="522.14" y="188.30" width="13.48" height="13.50" fill="#ebf8e8" stroke="#1a1a1a" stroke-width="0.55"/>
<rect x="535.62" y="188.30" width="13.48" height="13.50" fill="#ebf8e8" stroke="#1a1a1a" stroke-width="0.55"/>
<rect x="549.10" y="188.30" width="13.48" height="13.50" fill="#e6f5e1" stroke="#1a1a1a" stroke-width="0.55"/>
<rect x="562.58" y="188.30" width="13.48" height="13.50" fill="#d8f0d2" stroke="#1a1a1a" stroke-width="0.55"/>
<rect x="576.06" y="188.30" width="13.48" height="13.50" fill="#c7e9c0" stroke="#1a1a1a" stroke-width="0.55"/>
<rect x="589.54" y="188.30" width="13.48" height="13.50" fill="#c4e8bd" stroke="#1a1a1a" stroke-width="0.55"/>
<rect x="603.02" y="188.30" width="13.48" height="13.50" fill="#d8f0d2" stroke="#1a1a1a" stroke-width="0.55"/>
<rect x="616.50" y="188.30" width="13.48" height="13.50" fill="#d1edca" stroke="#1a1a1a" stroke-width="0.55"/>
<rect x="629.98" y="188.30" width="13.48" height="13.50" fill="#ccebc5" stroke="#1a1a1a" stroke-width="0.55"/>
<rect x="643.46" y="188.30" width="13.48" height="13.50" fill="#c9eac3" stroke="#1a1a1a" stroke-width="0.55"/>
<rect x="656.94" y="188.30" width="13.48" height="13.50" fill="#c9eac3" stroke="#1a1a1a" stroke-width="0.55"/>
<rect x="670.42" y="188.30" width="13.48" height="13.50" fill="#c7e9c0" stroke="#1a1a1a" stroke-width="0.55"/>
<rect x="279.50" y="201.80" width="13.48" height="13.50" fill="#f1faee" stroke="#1a1a1a" stroke-width="0.55"/>
<rect x="292.98" y="201.80" width="13.48" height="13.50" fill="#f1faee" stroke="#1a1a1a" stroke-width="0.55"/>
<rect x="306.46" y="201.80" width="13.48" height="13.50" fill="#f3faf0" stroke="#1a1a1a" stroke-width="0.55"/>
<rect x="319.94" y="201.80" width="13.48" height="13.50" fill="#f1faee" stroke="#1a1a1a" stroke-width="0.55"/>
<rect x="333.42" y="201.80" width="13.48" height="13.50" fill="#f1faee" stroke="#1a1a1a" stroke-width="0.55"/>
<rect x="346.90" y="201.80" width="13.48" height="13.50" fill="#f1faee" stroke="#1a1a1a" stroke-width="0.55"/>
<rect x="360.38" y="201.80" width="13.48" height="13.50" fill="#f1faee" stroke="#1a1a1a" stroke-width="0.55"/>
<rect x="373.86" y="201.80" width="13.48" height="13.50" fill="#f1faee" stroke="#1a1a1a" stroke-width="0.55"/>
<rect x="387.34" y="201.80" width="13.48" height="13.50" fill="#eef9eb" stroke="#1a1a1a" stroke-width="0.55"/>
<rect x="400.82" y="201.80" width="13.48" height="13.50" fill="#f1faee" stroke="#1a1a1a" stroke-width="0.55"/>
<rect x="414.30" y="201.80" width="13.48" height="13.50" fill="#f3faf0" stroke="#1a1a1a" stroke-width="0.55"/>
<rect x="427.78" y="201.80" width="13.48" height="13.50" fill="#f1faee" stroke="#1a1a1a" stroke-width="0.55"/>
<rect x="441.26" y="201.80" width="13.48" height="13.50" fill="#f1faee" stroke="#1a1a1a" stroke-width="0.55"/>
<rect x="454.74" y="201.80" width="13.48" height="13.50" fill="#f1faee" stroke="#1a1a1a" stroke-width="0.55"/>
<rect x="468.22" y="201.80" width="13.48" height="13.50" fill="#f1faee" stroke="#1a1a1a" stroke-width="0.55"/>
<rect x="481.70" y="201.80" width="13.48" height="13.50" fill="#f1faee" stroke="#1a1a1a" stroke-width="0.55"/>
<rect x="495.18" y="201.80" width="13.48" height="13.50" fill="#f1faee" stroke="#1a1a1a" stroke-width="0.55"/>
<rect x="508.66" y="201.80" width="13.48" height="13.50" fill="#f1faee" stroke="#1a1a1a" stroke-width="0.55"/>
<rect x="522.14" y="201.80" width="13.48" height="13.50" fill="#f1faee" stroke="#1a1a1a" stroke-width="0.55"/>
<rect x="535.62" y="201.80" width="13.48" height="13.50" fill="#eef9eb" stroke="#1a1a1a" stroke-width="0.55"/>
<rect x="549.10" y="201.80" width="13.48" height="13.50" fill="#e9f6e4" stroke="#1a1a1a" stroke-width="0.55"/>
<rect x="562.58" y="201.80" width="13.48" height="13.50" fill="#e9f6e4" stroke="#1a1a1a" stroke-width="0.55"/>
<rect x="576.06" y="201.80" width="13.48" height="13.50" fill="#e9f6e4" stroke="#1a1a1a" stroke-width="0.55"/>
<rect x="589.54" y="201.80" width="13.48" height="13.50" fill="#e9f6e4" stroke="#1a1a1a" stroke-width="0.55"/>
<rect x="603.02" y="201.80" width="13.48" height="13.50" fill="#e9f6e4" stroke="#1a1a1a" stroke-width="0.55"/>
<rect x="616.50" y="201.80" width="13.48" height="13.50" fill="#e6f5e1" stroke="#1a1a1a" stroke-width="0.55"/>
<rect x="629.98" y="201.80" width="13.48" height="13.50" fill="#e9f6e4" stroke="#1a1a1a" stroke-width="0.55"/>
<rect x="643.46" y="201.80" width="13.48" height="13.50" fill="#d8f0d2" stroke="#1a1a1a" stroke-width="0.55"/>
<rect x="656.94" y="201.80" width="13.48" height="13.50" fill="#d3eecd" stroke="#1a1a1a" stroke-width="0.55"/>
<rect x="670.42" y="201.80" width="13.48" height="13.50" fill="#c7e9c0" stroke="#1a1a1a" stroke-width="0.55"/>
<rect x="279.50" y="215.30" width="13.48" height="13.50" fill="#9fd89a" stroke="#1a1a1a" stroke-width="0.55"/>
<rect x="292.98" y="215.30" width="13.48" height="13.50" fill="#7bc77c" stroke="#1a1a1a" stroke-width="0.55"/>
<rect x="306.46" y="215.30" width="13.48" height="13.50" fill="#b2e0ab" stroke="#1a1a1a" stroke-width="0.55"/>
<rect x="319.94" y="215.30" width="13.48" height="13.50" fill="#9fd89a" stroke="#1a1a1a" stroke-width="0.55"/>
<rect x="333.42" y="215.30" width="13.48" height="13.50" fill="#9fd89a" stroke="#1a1a1a" stroke-width="0.55"/>
<rect x="346.90" y="215.30" width="13.48" height="13.50" fill="#b2e0ab" stroke="#1a1a1a" stroke-width="0.55"/>
<rect x="360.38" y="215.30" width="13.48" height="13.50" fill="#acdda5" stroke="#1a1a1a" stroke-width="0.55"/>
<rect x="373.86" y="215.30" width="13.48" height="13.50" fill="#b2e0ab" stroke="#1a1a1a" stroke-width="0.55"/>
<rect x="387.34" y="215.30" width="13.48" height="13.50" fill="#82cb82" stroke="#1a1a1a" stroke-width="0.55"/>
<rect x="400.82" y="215.30" width="13.48" height="13.50" fill="#c4e8bd" stroke="#1a1a1a" stroke-width="0.55"/>
<rect x="414.30" y="215.30" width="13.48" height="13.50" fill="#c9eac3" stroke="#1a1a1a" stroke-width="0.55"/>
<rect x="427.78" y="215.30" width="13.48" height="13.50" fill="#bee5b7" stroke="#1a1a1a" stroke-width="0.55"/>
<rect x="441.26" y="215.30" width="13.48" height="13.50" fill="#c9eac3" stroke="#1a1a1a" stroke-width="0.55"/>
<rect x="454.74" y="215.30" width="13.48" height="13.50" fill="#d8f0d2" stroke="#1a1a1a" stroke-width="0.55"/>
<rect x="468.22" y="215.30" width="13.48" height="13.50" fill="#d8f0d2" stroke="#1a1a1a" stroke-width="0.55"/>
<rect x="481.70" y="215.30" width="13.48" height="13.50" fill="#d8f0d2" stroke="#1a1a1a" stroke-width="0.55"/>
<rect x="495.18" y="215.30" width="13.48" height="13.50" fill="#ddf2d7" stroke="#1a1a1a" stroke-width="0.55"/>
<rect x="508.66" y="215.30" width="13.48" height="13.50" fill="#d8f0d2" stroke="#1a1a1a" stroke-width="0.55"/>
<rect x="522.14" y="215.30" width="13.48" height="13.50" fill="#ddf2d7" stroke="#1a1a1a" stroke-width="0.55"/>
<rect x="535.62" y="215.30" width="13.48" height="13.50" fill="#e1f4dc" stroke="#1a1a1a" stroke-width="0.55"/>
<rect x="549.10" y="215.30" width="13.48" height="13.50" fill="#208943" stroke="#1a1a1a" stroke-width="0.55"/>
<rect x="562.58" y="215.30" width="13.48" height="13.50" fill="#006b2b" stroke="#1a1a1a" stroke-width="0.55"/>
<rect x="576.06" y="215.30" width="13.48" height="13.50" fill="#39a256" stroke="#1a1a1a" stroke-width="0.55"/>
<rect x="589.54" y="215.30" width="13.48" height="13.50" fill="#3da75a" stroke="#1a1a1a" stroke-width="0.55"/>
<rect x="603.02" y="215.30" width="13.48" height="13.50" fill="#258e47" stroke="#1a1a1a" stroke-width="0.55"/>
<rect x="616.50" y="215.30" width="13.48" height="13.50" fill="#43ac5e" stroke="#1a1a1a" stroke-width="0.55"/>
<rect x="629.98" y="215.30" width="13.48" height="13.50" fill="#4bb062" stroke="#1a1a1a" stroke-width="0.55"/>
<rect x="643.46" y="215.30" width="13.48" height="13.50" fill="#43ac5e" stroke="#1a1a1a" stroke-width="0.55"/>
<rect x="656.94" y="215.30" width="13.48" height="13.50" fill="#3da75a" stroke="#1a1a1a" stroke-width="0.55"/>
<rect x="670.42" y="215.30" width="13.48" height="13.50" fill="#91d18e" stroke="#1a1a1a" stroke-width="0.55"/>
<rect x="279.50" y="174.80" width="404.40" height="54.00" fill="none" stroke="#b0b0b0" stroke-width="1.1"/>
<rect x="279.50" y="230.80" width="13.48" height="13.60" fill="#1b69af" stroke="#1a1a1a" stroke-width="0.55"/>
<rect x="292.98" y="230.80" width="13.48" height="13.60" fill="#1764ab" stroke="#1a1a1a" stroke-width="0.55"/>
<rect x="306.46" y="230.80" width="13.48" height="13.60" fill="#2979b9" stroke="#1a1a1a" stroke-width="0.55"/>
<rect x="319.94" y="230.80" width="13.48" height="13.60" fill="#dfecf7" stroke="#1a1a1a" stroke-width="0.55"/>
<rect x="333.42" y="230.80" width="13.48" height="13.60" fill="#1f6eb3" stroke="#1a1a1a" stroke-width="0.55"/>
<rect x="346.90" y="230.80" width="13.48" height="13.60" fill="#2979b9" stroke="#1a1a1a" stroke-width="0.55"/>
<rect x="360.38" y="230.80" width="13.48" height="13.60" fill="#d7e7f5" stroke="#1a1a1a" stroke-width="0.55"/>
<rect x="373.86" y="230.80" width="13.48" height="13.60" fill="#2e7ebc" stroke="#1a1a1a" stroke-width="0.55"/>
<rect x="387.34" y="230.80" width="13.48" height="13.60" fill="#ebf3fb" stroke="#1a1a1a" stroke-width="0.55"/>
<rect x="400.82" y="230.80" width="13.48" height="13.60" fill="#f3f8fe" stroke="#1a1a1a" stroke-width="0.55"/>
<rect x="414.30" y="230.80" width="13.48" height="13.60" fill="#3989c1" stroke="#1a1a1a" stroke-width="0.55"/>
<rect x="427.78" y="230.80" width="13.48" height="13.60" fill="#3e8ec4" stroke="#1a1a1a" stroke-width="0.55"/>
<rect x="441.26" y="230.80" width="13.48" height="13.60" fill="#4493c7" stroke="#1a1a1a" stroke-width="0.55"/>
<rect x="454.74" y="230.80" width="13.48" height="13.60" fill="#94c4df" stroke="#1a1a1a" stroke-width="0.55"/>
<rect x="468.22" y="230.80" width="13.48" height="13.60" fill="#73b2d8" stroke="#1a1a1a" stroke-width="0.55"/>
<rect x="481.70" y="230.80" width="13.48" height="13.60" fill="#7bb7da" stroke="#1a1a1a" stroke-width="0.55"/>
<rect x="495.18" y="230.80" width="13.48" height="13.60" fill="#a3cce3" stroke="#1a1a1a" stroke-width="0.55"/>
<rect x="508.66" y="230.80" width="13.48" height="13.60" fill="#83bbdb" stroke="#1a1a1a" stroke-width="0.55"/>
<rect x="522.14" y="230.80" width="13.48" height="13.60" fill="#a3cce3" stroke="#1a1a1a" stroke-width="0.55"/>
<rect x="535.62" y="230.80" width="13.48" height="13.60" fill="#d0e1f2" stroke="#1a1a1a" stroke-width="0.55"/>
<rect x="549.10" y="230.80" width="13.48" height="13.60" fill="#3686c0" stroke="#1a1a1a" stroke-width="0.55"/>
<rect x="562.58" y="230.80" width="13.48" height="13.60" fill="#3383bf" stroke="#1a1a1a" stroke-width="0.55"/>
<rect x="576.06" y="230.80" width="13.48" height="13.60" fill="#64aad3" stroke="#1a1a1a" stroke-width="0.55"/>
<rect x="589.54" y="230.80" width="13.48" height="13.60" fill="#77b5d9" stroke="#1a1a1a" stroke-width="0.55"/>
<rect x="603.02" y="230.80" width="13.48" height="13.60" fill="#4191c5" stroke="#1a1a1a" stroke-width="0.55"/>
<rect x="616.50" y="230.80" width="13.48" height="13.60" fill="#64aad3" stroke="#1a1a1a" stroke-width="0.55"/>
<rect x="629.98" y="230.80" width="13.48" height="13.60" fill="#73b2d8" stroke="#1a1a1a" stroke-width="0.55"/>
<rect x="643.46" y="230.80" width="13.48" height="13.60" fill="#8cc0dd" stroke="#1a1a1a" stroke-width="0.55"/>
<rect x="656.94" y="230.80" width="13.48" height="13.60" fill="#90c2de" stroke="#1a1a1a" stroke-width="0.55"/>
<rect x="670.42" y="230.80" width="13.48" height="13.60" fill="#d0e1f2" stroke="#1a1a1a" stroke-width="0.55"/>
<rect x="279.50" y="230.80" width="404.40" height="13.60" fill="none" stroke="#b0b0b0" stroke-width="1.1"/>
<text x="286.24" y="172.70" font-size="7.5" text-anchor="middle" font-weight="normal" fill="#000" >1</text>
<line x1="286.24" y1="173.00" x2="286.24" y2="174.80" stroke="#222" stroke-width="0.6"/>
<text x="299.72" y="172.70" font-size="7.5" text-anchor="middle" font-weight="normal" fill="#000" >2</text>
<line x1="299.72" y1="173.00" x2="299.72" y2="174.80" stroke="#222" stroke-width="0.6"/>
<text x="313.20" y="172.70" font-size="7.5" text-anchor="middle" font-weight="normal" fill="#000" >3</text>
<line x1="313.20" y1="173.00" x2="313.20" y2="174.80" stroke="#222" stroke-width="0.6"/>
<text x="326.68" y="172.70" font-size="7.5" text-anchor="middle" font-weight="normal" fill="#000" >4</text>
<line x1="326.68" y1="173.00" x2="326.68" y2="174.80" stroke="#222" stroke-width="0.6"/>
<text x="340.16" y="172.70" font-size="7.5" text-anchor="middle" font-weight="normal" fill="#000" >5</text>
<line x1="340.16" y1="173.00" x2="340.16" y2="174.80" stroke="#222" stroke-width="0.6"/>
<text x="353.64" y="172.70" font-size="7.5" text-anchor="middle" font-weight="normal" fill="#000" >6</text>
<line x1="353.64" y1="173.00" x2="353.64" y2="174.80" stroke="#222" stroke-width="0.6"/>
<text x="367.12" y="172.70" font-size="7.5" text-anchor="middle" font-weight="normal" fill="#000" >7</text>
<line x1="367.12" y1="173.00" x2="367.12" y2="174.80" stroke="#222" stroke-width="0.6"/>
<text x="380.60" y="172.70" font-size="7.5" text-anchor="middle" font-weight="normal" fill="#000" >8</text>
<line x1="380.60" y1="173.00" x2="380.60" y2="174.80" stroke="#222" stroke-width="0.6"/>
<text x="394.08" y="172.70" font-size="7.5" text-anchor="middle" font-weight="normal" fill="#000" >9</text>
<line x1="394.08" y1="173.00" x2="394.08" y2="174.80" stroke="#222" stroke-width="0.6"/>
<text x="407.56" y="172.70" font-size="7.5" text-anchor="middle" font-weight="normal" fill="#000" >10</text>
<line x1="407.56" y1="173.00" x2="407.56" y2="174.80" stroke="#222" stroke-width="0.6"/>
<text x="421.04" y="172.70" font-size="7.5" text-anchor="middle" font-weight="normal" fill="#000" >11</text>
<line x1="421.04" y1="173.00" x2="421.04" y2="174.80" stroke="#222" stroke-width="0.6"/>
<text x="434.52" y="172.70" font-size="7.5" text-anchor="middle" font-weight="normal" fill="#000" >12</text>
<line x1="434.52" y1="173.00" x2="434.52" y2="174.80" stroke="#222" stroke-width="0.6"/>
<text x="448.00" y="172.70" font-size="7.5" text-anchor="middle" font-weight="normal" fill="#000" >13</text>
<line x1="448.00" y1="173.00" x2="448.00" y2="174.80" stroke="#222" stroke-width="0.6"/>
<text x="461.48" y="172.70" font-size="7.5" text-anchor="middle" font-weight="normal" fill="#000" >14</text>
<line x1="461.48" y1="173.00" x2="461.48" y2="174.80" stroke="#222" stroke-width="0.6"/>
<text x="474.96" y="172.70" font-size="7.5" text-anchor="middle" font-weight="normal" fill="#000" >15</text>
<line x1="474.96" y1="173.00" x2="474.96" y2="174.80" stroke="#222" stroke-width="0.6"/>
<text x="488.44" y="172.70" font-size="7.5" text-anchor="middle" font-weight="normal" fill="#000" >16</text>
<line x1="488.44" y1="173.00" x2="488.44" y2="174.80" stroke="#222" stroke-width="0.6"/>
<text x="501.92" y="172.70" font-size="7.5" text-anchor="middle" font-weight="normal" fill="#000" >17</text>
<line x1="501.92" y1="173.00" x2="501.92" y2="174.80" stroke="#222" stroke-width="0.6"/>
<text x="515.40" y="172.70" font-size="7.5" text-anchor="middle" font-weight="normal" fill="#000" >18</text>
<line x1="515.40" y1="173.00" x2="515.40" y2="174.80" stroke="#222" stroke-width="0.6"/>
<text x="528.88" y="172.70" font-size="7.5" text-anchor="middle" font-weight="normal" fill="#000" >19</text>
<line x1="528.88" y1="173.00" x2="528.88" y2="174.80" stroke="#222" stroke-width="0.6"/>
<text x="542.36" y="172.70" font-size="7.5" text-anchor="middle" font-weight="normal" fill="#000" >20</text>
<line x1="542.36" y1="173.00" x2="542.36" y2="174.80" stroke="#222" stroke-width="0.6"/>
<text x="555.84" y="172.70" font-size="7.5" text-anchor="middle" font-weight="normal" fill="#000" >21</text>
<line x1="555.84" y1="173.00" x2="555.84" y2="174.80" stroke="#222" stroke-width="0.6"/>
<text x="569.32" y="172.70" font-size="7.5" text-anchor="middle" font-weight="normal" fill="#000" >22</text>
<line x1="569.32" y1="173.00" x2="569.32" y2="174.80" stroke="#222" stroke-width="0.6"/>
<text x="582.80" y="172.70" font-size="7.5" text-anchor="middle" font-weight="normal" fill="#000" >23</text>
<line x1="582.80" y1="173.00" x2="582.80" y2="174.80" stroke="#222" stroke-width="0.6"/>
<text x="596.28" y="172.70" font-size="7.5" text-anchor="middle" font-weight="normal" fill="#000" >24</text>
<line x1="596.28" y1="173.00" x2="596.28" y2="174.80" stroke="#222" stroke-width="0.6"/>
<text x="609.76" y="172.70" font-size="7.5" text-anchor="middle" font-weight="normal" fill="#000" >25</text>
<line x1="609.76" y1="173.00" x2="609.76" y2="174.80" stroke="#222" stroke-width="0.6"/>
<text x="623.24" y="172.70" font-size="7.5" text-anchor="middle" font-weight="normal" fill="#000" >26</text>
<line x1="623.24" y1="173.00" x2="623.24" y2="174.80" stroke="#222" stroke-width="0.6"/>
<text x="636.72" y="172.70" font-size="7.5" text-anchor="middle" font-weight="normal" fill="#000" >27</text>
<line x1="636.72" y1="173.00" x2="636.72" y2="174.80" stroke="#222" stroke-width="0.6"/>
<text x="650.20" y="172.70" font-size="7.5" text-anchor="middle" font-weight="normal" fill="#000" >28</text>
<line x1="650.20" y1="173.00" x2="650.20" y2="174.80" stroke="#222" stroke-width="0.6"/>
<text x="663.68" y="172.70" font-size="7.5" text-anchor="middle" font-weight="normal" fill="#000" >29</text>
<line x1="663.68" y1="173.00" x2="663.68" y2="174.80" stroke="#222" stroke-width="0.6"/>
<text x="677.16" y="172.70" font-size="7.5" text-anchor="middle" font-weight="normal" fill="#000" >30</text>
<line x1="677.16" y1="173.00" x2="677.16" y2="174.80" stroke="#222" stroke-width="0.6"/>
<text x="277.00" y="184.15" font-size="7.2" text-anchor="end" font-weight="normal" fill="#000" >[0, 0]</text>
<line x1="277.6" y1="181.55" x2="279.50" y2="181.55" stroke="#222" stroke-width="0.6"/>
<text x="277.00" y="197.65" font-size="7.2" text-anchor="end" font-weight="normal" fill="#000" >[1, 0]</text>
<line x1="277.6" y1="195.05" x2="279.50" y2="195.05" stroke="#222" stroke-width="0.6"/>
<text x="277.00" y="211.15" font-size="7.2" text-anchor="end" font-weight="normal" fill="#000" >[0, 1]</text>
<line x1="277.6" y1="208.55" x2="279.50" y2="208.55" stroke="#222" stroke-width="0.6"/>
<text x="277.00" y="224.65" font-size="7.2" text-anchor="end" font-weight="normal" fill="#000" >[1, 1]</text>
<line x1="277.6" y1="222.05" x2="279.50" y2="222.05" stroke="#222" stroke-width="0.6"/>
<text x="277.00" y="240.10" font-size="6.9" text-anchor="end" font-weight="normal" fill="#000" >Theta</text>
<line x1="277.6" y1="237.60" x2="279.50" y2="237.60" stroke="#222" stroke-width="0.6"/>
<rect x="279.50" y="262.20" width="13.48" height="13.50" fill="#f1faee" stroke="#1a1a1a" stroke-width="0.55"/>
<rect x="292.98" y="262.20" width="13.48" height="13.50" fill="#f1faee" stroke="#1a1a1a" stroke-width="0.55"/>
<rect x="306.46" y="262.20" width="13.48" height="13.50" fill="#f1faee" stroke="#1a1a1a" stroke-width="0.55"/>
<rect x="319.94" y="262.20" width="13.48" height="13.50" fill="#eef9eb" stroke="#1a1a1a" stroke-width="0.55"/>
<rect x="333.42" y="262.20" width="13.48" height="13.50" fill="#f1faee" stroke="#1a1a1a" stroke-width="0.55"/>
<rect x="346.90" y="262.20" width="13.48" height="13.50" fill="#f1faee" stroke="#1a1a1a" stroke-width="0.55"/>
<rect x="360.38" y="262.20" width="13.48" height="13.50" fill="#f1faee" stroke="#1a1a1a" stroke-width="0.55"/>
<rect x="373.86" y="262.20" width="13.48" height="13.50" fill="#eef9eb" stroke="#1a1a1a" stroke-width="0.55"/>
<rect x="387.34" y="262.20" width="13.48" height="13.50" fill="#f1faee" stroke="#1a1a1a" stroke-width="0.55"/>
<rect x="400.82" y="262.20" width="13.48" height="13.50" fill="#eef9eb" stroke="#1a1a1a" stroke-width="0.55"/>
<rect x="414.30" y="262.20" width="13.48" height="13.50" fill="#eef9eb" stroke="#1a1a1a" stroke-width="0.55"/>
<rect x="427.78" y="262.20" width="13.48" height="13.50" fill="#eef9eb" stroke="#1a1a1a" stroke-width="0.55"/>
<rect x="441.26" y="262.20" width="13.48" height="13.50" fill="#eef9eb" stroke="#1a1a1a" stroke-width="0.55"/>
<rect x="454.74" y="262.20" width="13.48" height="13.50" fill="#eef9eb" stroke="#1a1a1a" stroke-width="0.55"/>
<rect x="468.22" y="262.20" width="13.48" height="13.50" fill="#eef9eb" stroke="#1a1a1a" stroke-width="0.55"/>
<rect x="481.70" y="262.20" width="13.48" height="13.50" fill="#eef9eb" stroke="#1a1a1a" stroke-width="0.55"/>
<rect x="495.18" y="262.20" width="13.48" height="13.50" fill="#eef9eb" stroke="#1a1a1a" stroke-width="0.55"/>
<rect x="508.66" y="262.20" width="13.48" height="13.50" fill="#f1faee" stroke="#1a1a1a" stroke-width="0.55"/>
<rect x="522.14" y="262.20" width="13.48" height="13.50" fill="#eef9eb" stroke="#1a1a1a" stroke-width="0.55"/>
<rect x="535.62" y="262.20" width="13.48" height="13.50" fill="#eef9eb" stroke="#1a1a1a" stroke-width="0.55"/>
<rect x="549.10" y="262.20" width="13.48" height="13.50" fill="#f3faf0" stroke="#1a1a1a" stroke-width="0.55"/>
<rect x="562.58" y="262.20" width="13.48" height="13.50" fill="#f3faf0" stroke="#1a1a1a" stroke-width="0.55"/>
<rect x="576.06" y="262.20" width="13.48" height="13.50" fill="#f3faf0" stroke="#1a1a1a" stroke-width="0.55"/>
<rect x="589.54" y="262.20" width="13.48" height="13.50" fill="#f3faf0" stroke="#1a1a1a" stroke-width="0.55"/>
<rect x="603.02" y="262.20" width="13.48" height="13.50" fill="#f3faf0" stroke="#1a1a1a" stroke-width="0.55"/>
<rect x="616.50" y="262.20" width="13.48" height="13.50" fill="#f3faf0" stroke="#1a1a1a" stroke-width="0.55"/>
<rect x="629.98" y="262.20" width="13.48" height="13.50" fill="#f3faf0" stroke="#1a1a1a" stroke-width="0.55"/>
<rect x="643.46" y="262.20" width="13.48" height="13.50" fill="#f3faf0" stroke="#1a1a1a" stroke-width="0.55"/>
<rect x="656.94" y="262.20" width="13.48" height="13.50" fill="#f3faf0" stroke="#1a1a1a" stroke-width="0.55"/>
<rect x="670.42" y="262.20" width="13.48" height="13.50" fill="#f3faf0" stroke="#1a1a1a" stroke-width="0.55"/>
<rect x="279.50" y="275.70" width="13.48" height="13.50" fill="#f1faee" stroke="#1a1a1a" stroke-width="0.55"/>
<rect x="292.98" y="275.70" width="13.48" height="13.50" fill="#f1faee" stroke="#1a1a1a" stroke-width="0.55"/>
<rect x="306.46" y="275.70" width="13.48" height="13.50" fill="#f1faee" stroke="#1a1a1a" stroke-width="0.55"/>
<rect x="319.94" y="275.70" width="13.48" height="13.50" fill="#ebf8e8" stroke="#1a1a1a" stroke-width="0.55"/>
<rect x="333.42" y="275.70" width="13.48" height="13.50" fill="#f1faee" stroke="#1a1a1a" stroke-width="0.55"/>
<rect x="346.90" y="275.70" width="13.48" height="13.50" fill="#f1faee" stroke="#1a1a1a" stroke-width="0.55"/>
<rect x="360.38" y="275.70" width="13.48" height="13.50" fill="#eef9eb" stroke="#1a1a1a" stroke-width="0.55"/>
<rect x="373.86" y="275.70" width="13.48" height="13.50" fill="#eef9eb" stroke="#1a1a1a" stroke-width="0.55"/>
<rect x="387.34" y="275.70" width="13.48" height="13.50" fill="#f1faee" stroke="#1a1a1a" stroke-width="0.55"/>
<rect x="400.82" y="275.70" width="13.48" height="13.50" fill="#ebf8e8" stroke="#1a1a1a" stroke-width="0.55"/>
<rect x="414.30" y="275.70" width="13.48" height="13.50" fill="#eef9eb" stroke="#1a1a1a" stroke-width="0.55"/>
<rect x="427.78" y="275.70" width="13.48" height="13.50" fill="#ebf8e8" stroke="#1a1a1a" stroke-width="0.55"/>
<rect x="441.26" y="275.70" width="13.48" height="13.50" fill="#ebf8e8" stroke="#1a1a1a" stroke-width="0.55"/>
<rect x="454.74" y="275.70" width="13.48" height="13.50" fill="#e1f4dc" stroke="#1a1a1a" stroke-width="0.55"/>
<rect x="468.22" y="275.70" width="13.48" height="13.50" fill="#eef9eb" stroke="#1a1a1a" stroke-width="0.55"/>
<rect x="481.70" y="275.70" width="13.48" height="13.50" fill="#ebf8e8" stroke="#1a1a1a" stroke-width="0.55"/>
<rect x="495.18" y="275.70" width="13.48" height="13.50" fill="#e6f5e1" stroke="#1a1a1a" stroke-width="0.55"/>
<rect x="508.66" y="275.70" width="13.48" height="13.50" fill="#ebf8e8" stroke="#1a1a1a" stroke-width="0.55"/>
<rect x="522.14" y="275.70" width="13.48" height="13.50" fill="#e1f4dc" stroke="#1a1a1a" stroke-width="0.55"/>
<rect x="535.62" y="275.70" width="13.48" height="13.50" fill="#e1f4dc" stroke="#1a1a1a" stroke-width="0.55"/>
<rect x="549.10" y="275.70" width="13.48" height="13.50" fill="#f3faf0" stroke="#1a1a1a" stroke-width="0.55"/>
<rect x="562.58" y="275.70" width="13.48" height="13.50" fill="#f3faf0" stroke="#1a1a1a" stroke-width="0.55"/>
<rect x="576.06" y="275.70" width="13.48" height="13.50" fill="#f3faf0" stroke="#1a1a1a" stroke-width="0.55"/>
<rect x="589.54" y="275.70" width="13.48" height="13.50" fill="#f3faf0" stroke="#1a1a1a" stroke-width="0.55"/>
<rect x="603.02" y="275.70" width="13.48" height="13.50" fill="#f3faf0" stroke="#1a1a1a" stroke-width="0.55"/>
<rect x="616.50" y="275.70" width="13.48" height="13.50" fill="#f3faf0" stroke="#1a1a1a" stroke-width="0.55"/>
<rect x="629.98" y="275.70" width="13.48" height="13.50" fill="#f3faf0" stroke="#1a1a1a" stroke-width="0.55"/>
<rect x="643.46" y="275.70" width="13.48" height="13.50" fill="#f3faf0" stroke="#1a1a1a" stroke-width="0.55"/>
<rect x="656.94" y="275.70" width="13.48" height="13.50" fill="#f3faf0" stroke="#1a1a1a" stroke-width="0.55"/>
<rect x="670.42" y="275.70" width="13.48" height="13.50" fill="#f3faf0" stroke="#1a1a1a" stroke-width="0.55"/>
<rect x="279.50" y="289.20" width="13.48" height="13.50" fill="#f1faee" stroke="#1a1a1a" stroke-width="0.55"/>
<rect x="292.98" y="289.20" width="13.48" height="13.50" fill="#f1faee" stroke="#1a1a1a" stroke-width="0.55"/>
<rect x="306.46" y="289.20" width="13.48" height="13.50" fill="#f1faee" stroke="#1a1a1a" stroke-width="0.55"/>
<rect x="319.94" y="289.20" width="13.48" height="13.50" fill="#f1faee" stroke="#1a1a1a" stroke-width="0.55"/>
<rect x="333.42" y="289.20" width="13.48" height="13.50" fill="#f1faee" stroke="#1a1a1a" stroke-width="0.55"/>
<rect x="346.90" y="289.20" width="13.48" height="13.50" fill="#f1faee" stroke="#1a1a1a" stroke-width="0.55"/>
<rect x="360.38" y="289.20" width="13.48" height="13.50" fill="#f1faee" stroke="#1a1a1a" stroke-width="0.55"/>
<rect x="373.86" y="289.20" width="13.48" height="13.50" fill="#f1faee" stroke="#1a1a1a" stroke-width="0.55"/>
<rect x="387.34" y="289.20" width="13.48" height="13.50" fill="#f1faee" stroke="#1a1a1a" stroke-width="0.55"/>
<rect x="400.82" y="289.20" width="13.48" height="13.50" fill="#f1faee" stroke="#1a1a1a" stroke-width="0.55"/>
<rect x="414.30" y="289.20" width="13.48" height="13.50" fill="#eef9eb" stroke="#1a1a1a" stroke-width="0.55"/>
<rect x="427.78" y="289.20" width="13.48" height="13.50" fill="#eef9eb" stroke="#1a1a1a" stroke-width="0.55"/>
<rect x="441.26" y="289.20" width="13.48" height="13.50" fill="#eef9eb" stroke="#1a1a1a" stroke-width="0.55"/>
<rect x="454.74" y="289.20" width="13.48" height="13.50" fill="#eef9eb" stroke="#1a1a1a" stroke-width="0.55"/>
<rect x="468.22" y="289.20" width="13.48" height="13.50" fill="#eef9eb" stroke="#1a1a1a" stroke-width="0.55"/>
<rect x="481.70" y="289.20" width="13.48" height="13.50" fill="#eef9eb" stroke="#1a1a1a" stroke-width="0.55"/>
<rect x="495.18" y="289.20" width="13.48" height="13.50" fill="#eef9eb" stroke="#1a1a1a" stroke-width="0.55"/>
<rect x="508.66" y="289.20" width="13.48" height="13.50" fill="#ebf8e8" stroke="#1a1a1a" stroke-width="0.55"/>
<rect x="522.14" y="289.20" width="13.48" height="13.50" fill="#ebf8e8" stroke="#1a1a1a" stroke-width="0.55"/>
<rect x="535.62" y="289.20" width="13.48" height="13.50" fill="#ebf8e8" stroke="#1a1a1a" stroke-width="0.55"/>
<rect x="549.10" y="289.20" width="13.48" height="13.50" fill="#f3faf0" stroke="#1a1a1a" stroke-width="0.55"/>
<rect x="562.58" y="289.20" width="13.48" height="13.50" fill="#f3faf0" stroke="#1a1a1a" stroke-width="0.55"/>
<rect x="576.06" y="289.20" width="13.48" height="13.50" fill="#f3faf0" stroke="#1a1a1a" stroke-width="0.55"/>
<rect x="589.54" y="289.20" width="13.48" height="13.50" fill="#f3faf0" stroke="#1a1a1a" stroke-width="0.55"/>
<rect x="603.02" y="289.20" width="13.48" height="13.50" fill="#f3faf0" stroke="#1a1a1a" stroke-width="0.55"/>
<rect x="616.50" y="289.20" width="13.48" height="13.50" fill="#f3faf0" stroke="#1a1a1a" stroke-width="0.55"/>
<rect x="629.98" y="289.20" width="13.48" height="13.50" fill="#f3faf0" stroke="#1a1a1a" stroke-width="0.55"/>
<rect x="643.46" y="289.20" width="13.48" height="13.50" fill="#f3faf0" stroke="#1a1a1a" stroke-width="0.55"/>
<rect x="656.94" y="289.20" width="13.48" height="13.50" fill="#f3faf0" stroke="#1a1a1a" stroke-width="0.55"/>
<rect x="670.42" y="289.20" width="13.48" height="13.50" fill="#f3faf0" stroke="#1a1a1a" stroke-width="0.55"/>
<rect x="279.50" y="302.70" width="13.48" height="13.50" fill="#c9eac3" stroke="#1a1a1a" stroke-width="0.55"/>
<rect x="292.98" y="302.70" width="13.48" height="13.50" fill="#d3eecd" stroke="#1a1a1a" stroke-width="0.55"/>
<rect x="306.46" y="302.70" width="13.48" height="13.50" fill="#b8e3b1" stroke="#1a1a1a" stroke-width="0.55"/>
<rect x="319.94" y="302.70" width="13.48" height="13.50" fill="#ceecc8" stroke="#1a1a1a" stroke-width="0.55"/>
<rect x="333.42" y="302.70" width="13.48" height="13.50" fill="#d8f0d2" stroke="#1a1a1a" stroke-width="0.55"/>
<rect x="346.90" y="302.70" width="13.48" height="13.50" fill="#bee5b7" stroke="#1a1a1a" stroke-width="0.55"/>
<rect x="360.38" y="302.70" width="13.48" height="13.50" fill="#d3eecd" stroke="#1a1a1a" stroke-width="0.55"/>
<rect x="373.86" y="302.70" width="13.48" height="13.50" fill="#d3eecd" stroke="#1a1a1a" stroke-width="0.55"/>
<rect x="387.34" y="302.70" width="13.48" height="13.50" fill="#ddf2d7" stroke="#1a1a1a" stroke-width="0.55"/>
<rect x="400.82" y="302.70" width="13.48" height="13.50" fill="#d3eecd" stroke="#1a1a1a" stroke-width="0.55"/>
<rect x="414.30" y="302.70" width="13.48" height="13.50" fill="#74c476" stroke="#1a1a1a" stroke-width="0.55"/>
<rect x="427.78" y="302.70" width="13.48" height="13.50" fill="#53b466" stroke="#1a1a1a" stroke-width="0.55"/>
<rect x="441.26" y="302.70" width="13.48" height="13.50" fill="#43ac5e" stroke="#1a1a1a" stroke-width="0.55"/>
<rect x="454.74" y="302.70" width="13.48" height="13.50" fill="#91d18e" stroke="#1a1a1a" stroke-width="0.55"/>
<rect x="468.22" y="302.70" width="13.48" height="13.50" fill="#7bc77c" stroke="#1a1a1a" stroke-width="0.55"/>
<rect x="481.70" y="302.70" width="13.48" height="13.50" fill="#6cc072" stroke="#1a1a1a" stroke-width="0.55"/>
<rect x="495.18" y="302.70" width="13.48" height="13.50" fill="#98d594" stroke="#1a1a1a" stroke-width="0.55"/>
<rect x="508.66" y="302.70" width="13.48" height="13.50" fill="#6cc072" stroke="#1a1a1a" stroke-width="0.55"/>
<rect x="522.14" y="302.70" width="13.48" height="13.50" fill="#7bc77c" stroke="#1a1a1a" stroke-width="0.55"/>
<rect x="535.62" y="302.70" width="13.48" height="13.50" fill="#8ace88" stroke="#1a1a1a" stroke-width="0.55"/>
<rect x="549.10" y="302.70" width="13.48" height="13.50" fill="#eef9eb" stroke="#1a1a1a" stroke-width="0.55"/>
<rect x="562.58" y="302.70" width="13.48" height="13.50" fill="#eef9eb" stroke="#1a1a1a" stroke-width="0.55"/>
<rect x="576.06" y="302.70" width="13.48" height="13.50" fill="#ebf8e8" stroke="#1a1a1a" stroke-width="0.55"/>
<rect x="589.54" y="302.70" width="13.48" height="13.50" fill="#eef9eb" stroke="#1a1a1a" stroke-width="0.55"/>
<rect x="603.02" y="302.70" width="13.48" height="13.50" fill="#eef9eb" stroke="#1a1a1a" stroke-width="0.55"/>
<rect x="616.50" y="302.70" width="13.48" height="13.50" fill="#eef9eb" stroke="#1a1a1a" stroke-width="0.55"/>
<rect x="629.98" y="302.70" width="13.48" height="13.50" fill="#f1faee" stroke="#1a1a1a" stroke-width="0.55"/>
<rect x="643.46" y="302.70" width="13.48" height="13.50" fill="#f1faee" stroke="#1a1a1a" stroke-width="0.55"/>
<rect x="656.94" y="302.70" width="13.48" height="13.50" fill="#f1faee" stroke="#1a1a1a" stroke-width="0.55"/>
<rect x="670.42" y="302.70" width="13.48" height="13.50" fill="#f1faee" stroke="#1a1a1a" stroke-width="0.55"/>
<rect x="279.50" y="262.20" width="404.40" height="54.00" fill="none" stroke="#b0b0b0" stroke-width="1.1"/>
<rect x="279.50" y="318.20" width="13.48" height="13.60" fill="#4a98c9" stroke="#1a1a1a" stroke-width="0.55"/>
<rect x="292.98" y="318.20" width="13.48" height="13.60" fill="#7bb7da" stroke="#1a1a1a" stroke-width="0.55"/>
<rect x="306.46" y="318.20" width="13.48" height="13.60" fill="#4191c5" stroke="#1a1a1a" stroke-width="0.55"/>
<rect x="319.94" y="318.20" width="13.48" height="13.60" fill="#a0cbe2" stroke="#1a1a1a" stroke-width="0.55"/>
<rect x="333.42" y="318.20" width="13.48" height="13.60" fill="#61a7d2" stroke="#1a1a1a" stroke-width="0.55"/>
<rect x="346.90" y="318.20" width="13.48" height="13.60" fill="#549ecd" stroke="#1a1a1a" stroke-width="0.55"/>
<rect x="360.38" y="318.20" width="13.48" height="13.60" fill="#88bedc" stroke="#1a1a1a" stroke-width="0.55"/>
<rect x="373.86" y="318.20" width="13.48" height="13.60" fill="#73b2d8" stroke="#1a1a1a" stroke-width="0.55"/>
<rect x="387.34" y="318.20" width="13.48" height="13.60" fill="#b0d1e7" stroke="#1a1a1a" stroke-width="0.55"/>
<rect x="400.82" y="318.20" width="13.48" height="13.60" fill="#a0cbe2" stroke="#1a1a1a" stroke-width="0.55"/>
<rect x="414.30" y="318.20" width="13.48" height="13.60" fill="#2e7ebc" stroke="#1a1a1a" stroke-width="0.55"/>
<rect x="427.78" y="318.20" width="13.48" height="13.60" fill="#2e7ebc" stroke="#1a1a1a" stroke-width="0.55"/>
<rect x="441.26" y="318.20" width="13.48" height="13.60" fill="#2c7cba" stroke="#1a1a1a" stroke-width="0.55"/>
<rect x="454.74" y="318.20" width="13.48" height="13.60" fill="#7fb9da" stroke="#1a1a1a" stroke-width="0.55"/>
<rect x="468.22" y="318.20" width="13.48" height="13.60" fill="#3e8ec4" stroke="#1a1a1a" stroke-width="0.55"/>
<rect x="481.70" y="318.20" width="13.48" height="13.60" fill="#3383bf" stroke="#1a1a1a" stroke-width="0.55"/>
<rect x="495.18" y="318.20" width="13.48" height="13.60" fill="#7fb9da" stroke="#1a1a1a" stroke-width="0.55"/>
<rect x="508.66" y="318.20" width="13.48" height="13.60" fill="#3989c1" stroke="#1a1a1a" stroke-width="0.55"/>
<rect x="522.14" y="318.20" width="13.48" height="13.60" fill="#64aad3" stroke="#1a1a1a" stroke-width="0.55"/>
<rect x="535.62" y="318.20" width="13.48" height="13.60" fill="#68acd5" stroke="#1a1a1a" stroke-width="0.55"/>
<rect x="549.10" y="318.20" width="13.48" height="13.60" fill="#d0e1f2" stroke="#1a1a1a" stroke-width="0.55"/>
<rect x="562.58" y="318.20" width="13.48" height="13.60" fill="#d0e1f2" stroke="#1a1a1a" stroke-width="0.55"/>
<rect x="576.06" y="318.20" width="13.48" height="13.60" fill="#8cc0dd" stroke="#1a1a1a" stroke-width="0.55"/>
<rect x="589.54" y="318.20" width="13.48" height="13.60" fill="#ccdff1" stroke="#1a1a1a" stroke-width="0.55"/>
<rect x="603.02" y="318.20" width="13.48" height="13.60" fill="#ddeaf7" stroke="#1a1a1a" stroke-width="0.55"/>
<rect x="616.50" y="318.20" width="13.48" height="13.60" fill="#c8dcf0" stroke="#1a1a1a" stroke-width="0.55"/>
<rect x="629.98" y="318.20" width="13.48" height="13.60" fill="#e7f1fa" stroke="#1a1a1a" stroke-width="0.55"/>
<rect x="643.46" y="318.20" width="13.48" height="13.60" fill="#dbe9f6" stroke="#1a1a1a" stroke-width="0.55"/>
<rect x="656.94" y="318.20" width="13.48" height="13.60" fill="#eff6fc" stroke="#1a1a1a" stroke-width="0.55"/>
<rect x="670.42" y="318.20" width="13.48" height="13.60" fill="#d0e1f2" stroke="#1a1a1a" stroke-width="0.55"/>
<rect x="279.50" y="318.20" width="404.40" height="13.60" fill="none" stroke="#b0b0b0" stroke-width="1.1"/>
<text x="286.24" y="260.10" font-size="7.5" text-anchor="middle" font-weight="normal" fill="#000" >31</text>
<line x1="286.24" y1="260.40" x2="286.24" y2="262.20" stroke="#222" stroke-width="0.6"/>
<text x="299.72" y="260.10" font-size="7.5" text-anchor="middle" font-weight="normal" fill="#000" >32</text>
<line x1="299.72" y1="260.40" x2="299.72" y2="262.20" stroke="#222" stroke-width="0.6"/>
<text x="313.20" y="260.10" font-size="7.5" text-anchor="middle" font-weight="normal" fill="#000" >33</text>
<line x1="313.20" y1="260.40" x2="313.20" y2="262.20" stroke="#222" stroke-width="0.6"/>
<text x="326.68" y="260.10" font-size="7.5" text-anchor="middle" font-weight="normal" fill="#000" >34</text>
<line x1="326.68" y1="260.40" x2="326.68" y2="262.20" stroke="#222" stroke-width="0.6"/>
<text x="340.16" y="260.10" font-size="7.5" text-anchor="middle" font-weight="normal" fill="#000" >35</text>
<line x1="340.16" y1="260.40" x2="340.16" y2="262.20" stroke="#222" stroke-width="0.6"/>
<text x="353.64" y="260.10" font-size="7.5" text-anchor="middle" font-weight="normal" fill="#000" >36</text>
<line x1="353.64" y1="260.40" x2="353.64" y2="262.20" stroke="#222" stroke-width="0.6"/>
<text x="367.12" y="260.10" font-size="7.5" text-anchor="middle" font-weight="normal" fill="#000" >37</text>
<line x1="367.12" y1="260.40" x2="367.12" y2="262.20" stroke="#222" stroke-width="0.6"/>
<text x="380.60" y="260.10" font-size="7.5" text-anchor="middle" font-weight="normal" fill="#000" >38</text>
<line x1="380.60" y1="260.40" x2="380.60" y2="262.20" stroke="#222" stroke-width="0.6"/>
<text x="394.08" y="260.10" font-size="7.5" text-anchor="middle" font-weight="normal" fill="#000" >39</text>
<line x1="394.08" y1="260.40" x2="394.08" y2="262.20" stroke="#222" stroke-width="0.6"/>
<text x="407.56" y="260.10" font-size="7.5" text-anchor="middle" font-weight="normal" fill="#000" >40</text>
<line x1="407.56" y1="260.40" x2="407.56" y2="262.20" stroke="#222" stroke-width="0.6"/>
<text x="421.04" y="260.10" font-size="7.5" text-anchor="middle" font-weight="normal" fill="#000" >41</text>
<line x1="421.04" y1="260.40" x2="421.04" y2="262.20" stroke="#222" stroke-width="0.6"/>
<text x="434.52" y="260.10" font-size="7.5" text-anchor="middle" font-weight="normal" fill="#000" >42</text>
<line x1="434.52" y1="260.40" x2="434.52" y2="262.20" stroke="#222" stroke-width="0.6"/>
<text x="448.00" y="260.10" font-size="7.5" text-anchor="middle" font-weight="normal" fill="#000" >43</text>
<line x1="448.00" y1="260.40" x2="448.00" y2="262.20" stroke="#222" stroke-width="0.6"/>
<text x="461.48" y="260.10" font-size="7.5" text-anchor="middle" font-weight="normal" fill="#000" >44</text>
<line x1="461.48" y1="260.40" x2="461.48" y2="262.20" stroke="#222" stroke-width="0.6"/>
<text x="474.96" y="260.10" font-size="7.5" text-anchor="middle" font-weight="normal" fill="#000" >45</text>
<line x1="474.96" y1="260.40" x2="474.96" y2="262.20" stroke="#222" stroke-width="0.6"/>
<text x="488.44" y="260.10" font-size="7.5" text-anchor="middle" font-weight="normal" fill="#000" >46</text>
<line x1="488.44" y1="260.40" x2="488.44" y2="262.20" stroke="#222" stroke-width="0.6"/>
<text x="501.92" y="260.10" font-size="7.5" text-anchor="middle" font-weight="normal" fill="#000" >47</text>
<line x1="501.92" y1="260.40" x2="501.92" y2="262.20" stroke="#222" stroke-width="0.6"/>
<text x="515.40" y="260.10" font-size="7.5" text-anchor="middle" font-weight="normal" fill="#000" >48</text>
<line x1="515.40" y1="260.40" x2="515.40" y2="262.20" stroke="#222" stroke-width="0.6"/>
<text x="528.88" y="260.10" font-size="7.5" text-anchor="middle" font-weight="normal" fill="#000" >49</text>
<line x1="528.88" y1="260.40" x2="528.88" y2="262.20" stroke="#222" stroke-width="0.6"/>
<text x="542.36" y="260.10" font-size="7.5" text-anchor="middle" font-weight="normal" fill="#000" >50</text>
<line x1="542.36" y1="260.40" x2="542.36" y2="262.20" stroke="#222" stroke-width="0.6"/>
<text x="555.84" y="260.10" font-size="7.5" text-anchor="middle" font-weight="normal" fill="#000" >51</text>
<line x1="555.84" y1="260.40" x2="555.84" y2="262.20" stroke="#222" stroke-width="0.6"/>
<text x="569.32" y="260.10" font-size="7.5" text-anchor="middle" font-weight="normal" fill="#000" >52</text>
<line x1="569.32" y1="260.40" x2="569.32" y2="262.20" stroke="#222" stroke-width="0.6"/>
<text x="582.80" y="260.10" font-size="7.5" text-anchor="middle" font-weight="normal" fill="#000" >53</text>
<line x1="582.80" y1="260.40" x2="582.80" y2="262.20" stroke="#222" stroke-width="0.6"/>
<text x="596.28" y="260.10" font-size="7.5" text-anchor="middle" font-weight="normal" fill="#000" >54</text>
<line x1="596.28" y1="260.40" x2="596.28" y2="262.20" stroke="#222" stroke-width="0.6"/>
<text x="609.76" y="260.10" font-size="7.5" text-anchor="middle" font-weight="normal" fill="#000" >55</text>
<line x1="609.76" y1="260.40" x2="609.76" y2="262.20" stroke="#222" stroke-width="0.6"/>
<text x="623.24" y="260.10" font-size="7.5" text-anchor="middle" font-weight="normal" fill="#000" >56</text>
<line x1="623.24" y1="260.40" x2="623.24" y2="262.20" stroke="#222" stroke-width="0.6"/>
<text x="636.72" y="260.10" font-size="7.5" text-anchor="middle" font-weight="normal" fill="#000" >57</text>
<line x1="636.72" y1="260.40" x2="636.72" y2="262.20" stroke="#222" stroke-width="0.6"/>
<text x="650.20" y="260.10" font-size="7.5" text-anchor="middle" font-weight="normal" fill="#000" >58</text>
<line x1="650.20" y1="260.40" x2="650.20" y2="262.20" stroke="#222" stroke-width="0.6"/>
<text x="663.68" y="260.10" font-size="7.5" text-anchor="middle" font-weight="normal" fill="#000" >59</text>
<line x1="663.68" y1="260.40" x2="663.68" y2="262.20" stroke="#222" stroke-width="0.6"/>
<text x="677.16" y="260.10" font-size="7.5" text-anchor="middle" font-weight="normal" fill="#000" >60</text>
<line x1="677.16" y1="260.40" x2="677.16" y2="262.20" stroke="#222" stroke-width="0.6"/>
<text x="277.00" y="271.55" font-size="7.2" text-anchor="end" font-weight="normal" fill="#000" >[0, 0]</text>
<line x1="277.6" y1="268.95" x2="279.50" y2="268.95" stroke="#222" stroke-width="0.6"/>
<text x="277.00" y="285.05" font-size="7.2" text-anchor="end" font-weight="normal" fill="#000" >[1, 0]</text>
<line x1="277.6" y1="282.45" x2="279.50" y2="282.45" stroke="#222" stroke-width="0.6"/>
<text x="277.00" y="298.55" font-size="7.2" text-anchor="end" font-weight="normal" fill="#000" >[0, 1]</text>
<line x1="277.6" y1="295.95" x2="279.50" y2="295.95" stroke="#222" stroke-width="0.6"/>
<text x="277.00" y="312.05" font-size="7.2" text-anchor="end" font-weight="normal" fill="#000" >[1, 1]</text>
<line x1="277.6" y1="309.45" x2="279.50" y2="309.45" stroke="#222" stroke-width="0.6"/>
<text x="277.00" y="327.50" font-size="6.9" text-anchor="end" font-weight="normal" fill="#000" >Theta</text>
<line x1="277.6" y1="325.00" x2="279.50" y2="325.00" stroke="#222" stroke-width="0.6"/>
<text x="310.00" y="349.20" font-size="7.8" text-anchor="start" font-weight="normal" fill="#000" >Normalized intensity [a.u.]</text>
<defs><linearGradient id="gg"><stop offset="0" stop-color="#f7fcf5"/><stop offset="0.125" stop-color="#e5f5e0"/><stop offset="0.25" stop-color="#c7e9c0"/><stop offset="0.375" stop-color="#a1d99b"/><stop offset="0.5" stop-color="#74c476"/><stop offset="0.625" stop-color="#41ab5d"/><stop offset="0.75" stop-color="#238b45"/><stop offset="0.875" stop-color="#006d2c"/><stop offset="1" stop-color="#00441b"/></linearGradient><linearGradient id="bg"><stop offset="0" stop-color="#08306b"/><stop offset="0.125" stop-color="#08519c"/><stop offset="0.25" stop-color="#2171b5"/><stop offset="0.375" stop-color="#4292c6"/><stop offset="0.5" stop-color="#6baed6"/><stop offset="0.625" stop-color="#9ecae1"/><stop offset="0.75" stop-color="#c6dbef"/><stop offset="0.875" stop-color="#deebf7"/><stop offset="1" stop-color="#f7fbff"/></linearGradient></defs>
<rect x="407" y="342.6" width="53" height="8.8" fill="url(#gg)" stroke="#aaa" stroke-width="0.8"/>
<rect x="501.2" y="342.6" width="53" height="8.8" fill="url(#bg)" stroke="#aaa" stroke-width="0.8"/>
<text x="407.40" y="358.60" font-size="5.6" text-anchor="middle" font-weight="normal" fill="#000" >0</text>
<text x="501.60" y="358.60" font-size="5.6" text-anchor="middle" font-weight="normal" fill="#000" >0</text>
<text x="417.90" y="358.60" font-size="5.6" text-anchor="middle" font-weight="normal" fill="#000" >10</text>
<text x="512.10" y="358.60" font-size="5.6" text-anchor="middle" font-weight="normal" fill="#000" >10</text>
<path d="M417.9,342.6v1.6m0,5.6v1.6M512.1,342.6v1.6m0,5.6v1.6" stroke="#555" stroke-width="0.4"/>
<text x="428.40" y="358.60" font-size="5.6" text-anchor="middle" font-weight="normal" fill="#000" >20</text>
<text x="522.60" y="358.60" font-size="5.6" text-anchor="middle" font-weight="normal" fill="#000" >20</text>
<path d="M428.4,342.6v1.6m0,5.6v1.6M522.6,342.6v1.6m0,5.6v1.6" stroke="#555" stroke-width="0.4"/>
<text x="438.90" y="358.60" font-size="5.6" text-anchor="middle" font-weight="normal" fill="#000" >30</text>
<text x="533.10" y="358.60" font-size="5.6" text-anchor="middle" font-weight="normal" fill="#000" >30</text>
<path d="M438.9,342.6v1.6m0,5.6v1.6M533.1,342.6v1.6m0,5.6v1.6" stroke="#555" stroke-width="0.4"/>
<text x="449.40" y="358.60" font-size="5.6" text-anchor="middle" font-weight="normal" fill="#000" >40</text>
<text x="543.60" y="358.60" font-size="5.6" text-anchor="middle" font-weight="normal" fill="#000" >40</text>
<path d="M449.4,342.6v1.6m0,5.6v1.6M543.6,342.6v1.6m0,5.6v1.6" stroke="#555" stroke-width="0.4"/>
<text x="459.90" y="358.60" font-size="5.6" text-anchor="middle" font-weight="normal" fill="#000" >50</text>
<text x="554.10" y="358.60" font-size="5.6" text-anchor="middle" font-weight="normal" fill="#000" >50</text>
<text x="474.60" y="349.40" font-size="7.8" text-anchor="start" font-weight="normal" fill="#000" >Theta</text>
<path d="M59.35,353.10A17.35,17.35 0 0 0 42.00,335.75" fill="none" stroke="#9a9a9a" stroke-width="0.6"/>
<path d="M76.70,353.10A34.70,34.70 0 0 0 42.00,318.40" fill="none" stroke="#9a9a9a" stroke-width="0.6"/>
<path d="M94.05,353.10A52.05,52.05 0 0 0 42.00,301.05" fill="none" stroke="#9a9a9a" stroke-width="0.6"/>
<path d="M111.40,353.10A69.40,69.40 0 0 0 42.00,283.70" fill="none" stroke="#9a9a9a" stroke-width="0.6"/>
<path d="M128.75,353.10A86.75,86.75 0 0 0 42.00,266.35" fill="none" stroke="#9a9a9a" stroke-width="0.6"/>
<path d="M146.10,353.10A104.10,104.10 0 0 0 42.00,249.00" fill="none" stroke="#9a9a9a" stroke-width="0.6"/>
<path d="M163.45,353.10A121.45,121.45 0 0 0 42.00,231.65" fill="none" stroke="#9a9a9a" stroke-width="0.6"/>
<path d="M180.80,353.10A138.80,138.80 0 0 0 42.00,214.30" fill="none" stroke="#9a9a9a" stroke-width="0.6"/>
<path d="M198.15,353.10A156.15,156.15 0 0 0 42.00,196.95" fill="none" stroke="#9a9a9a" stroke-width="0.6"/>
<line x1="42.00" y1="353.10" x2="212.86" y2="322.97" stroke="#9a9a9a" stroke-width="0.6"/>
<line x1="42.00" y1="353.10" x2="192.26" y2="266.35" stroke="#9a9a9a" stroke-width="0.6"/>
<line x1="42.00" y1="353.10" x2="174.91" y2="241.58" stroke="#9a9a9a" stroke-width="0.6"/>
<line x1="42.00" y1="353.10" x2="153.52" y2="220.19" stroke="#9a9a9a" stroke-width="0.6"/>
<line x1="42.00" y1="353.10" x2="128.75" y2="202.84" stroke="#9a9a9a" stroke-width="0.6"/>
<line x1="42.00" y1="353.10" x2="101.34" y2="190.06" stroke="#9a9a9a" stroke-width="0.6"/>
<line x1="42.00" y1="353.10" x2="72.13" y2="182.24" stroke="#9a9a9a" stroke-width="0.6"/>
<line x1="42.00" y1="353.10" x2="205.04" y2="293.76" stroke="#a83232" stroke-width="0.9"/>
<path d="M42.00,179.60V353.10H215.50" fill="none" stroke="#111" stroke-width="0.9"/>
<path d="M215.50,353.10A173.50,173.50 0 0 0 42.00,179.60" fill="none" stroke="#111" stroke-width="1.0"/>
<path d="M42.00,353.10h2.6M42.00,353.10v-2.6M42.00,335.75h2.6M59.35,353.10v-2.6M42.00,318.40h2.6M76.70,353.10v-2.6M42.00,301.05h2.6M94.05,353.10v-2.6M42.00,283.70h2.6M111.40,353.10v-2.6M42.00,266.35h2.6M128.75,353.10v-2.6M42.00,249.00h2.6M146.10,353.10v-2.6M42.00,231.65h2.6M163.45,353.10v-2.6M42.00,214.30h2.6M180.80,353.10v-2.6M42.00,196.95h2.6M198.15,353.10v-2.6M42.00,179.60h2.6M215.50,353.10v-2.6M215.50,353.10L212.90,353.10M212.86,322.97L210.30,323.42M205.04,293.76L202.59,294.65M192.26,266.35L190.00,267.65M174.91,241.58L172.92,243.25M153.52,220.19L151.85,222.18M128.75,202.84L127.45,205.10M101.34,190.06L100.45,192.51M72.13,182.24L71.68,184.80M42.00,179.60L42.00,182.20" stroke="#111" stroke-width="0.7" fill="none"/>
<text x="38.40" y="355.90" font-size="7.8" text-anchor="end" font-weight="normal" fill="#000" >0</text>
<text x="42.00" y="362.00" font-size="7.8" text-anchor="middle" font-weight="normal" fill="#000" >0</text>
<text x="38.40" y="338.55" font-size="7.8" text-anchor="end" font-weight="normal" fill="#000" >1.5</text>
<text x="59.35" y="362.00" font-size="7.8" text-anchor="middle" font-weight="normal" fill="#000" >1.5</text>
<text x="38.40" y="321.20" font-size="7.8" text-anchor="end" font-weight="normal" fill="#000" >3</text>
<text x="76.70" y="362.00" font-size="7.8" text-anchor="middle" font-weight="normal" fill="#000" >3</text>
<text x="38.40" y="303.85" font-size="7.8" text-anchor="end" font-weight="normal" fill="#000" >4.5</text>
<text x="94.05" y="362.00" font-size="7.8" text-anchor="middle" font-weight="normal" fill="#000" >4.5</text>
<text x="38.40" y="286.50" font-size="7.8" text-anchor="end" font-weight="normal" fill="#000" >6</text>
<text x="111.40" y="362.00" font-size="7.8" text-anchor="middle" font-weight="normal" fill="#000" >6</text>
<text x="38.40" y="269.15" font-size="7.8" text-anchor="end" font-weight="normal" fill="#000" >7.5</text>
<text x="128.75" y="362.00" font-size="7.8" text-anchor="middle" font-weight="normal" fill="#000" >7.5</text>
<text x="38.40" y="251.80" font-size="7.8" text-anchor="end" font-weight="normal" fill="#000" >9</text>
<text x="146.10" y="362.00" font-size="7.8" text-anchor="middle" font-weight="normal" fill="#000" >9</text>
<text x="38.40" y="234.45" font-size="7.8" text-anchor="end" font-weight="normal" fill="#000" >10.5</text>
<text x="163.45" y="362.00" font-size="7.8" text-anchor="middle" font-weight="normal" fill="#000" >10.5</text>
<text x="38.40" y="217.10" font-size="7.8" text-anchor="end" font-weight="normal" fill="#000" >12</text>
<text x="180.80" y="362.00" font-size="7.8" text-anchor="middle" font-weight="normal" fill="#000" >12</text>
<text x="38.40" y="199.75" font-size="7.8" text-anchor="end" font-weight="normal" fill="#000" >13.5</text>
<text x="198.15" y="362.00" font-size="7.8" text-anchor="middle" font-weight="normal" fill="#000" >13.5</text>
<text x="38.40" y="182.40" font-size="7.8" text-anchor="end" font-weight="normal" fill="#000" >15</text>
<text x="215.50" y="362.00" font-size="7.8" text-anchor="middle" font-weight="normal" fill="#000" >15</text>
<text transform="translate(218.70,350.10) rotate(70.2)" font-size="7.5" fill="#111" dy="0">0°</text>
<text transform="translate(215.49,319.46) rotate(62.4)" font-size="7.5" fill="#111" dy="0">10°</text>
<text transform="translate(207.02,289.85) rotate(54.6)" font-size="7.5" fill="#a02828" dy="0">20°</text>
<text transform="translate(193.53,262.15) rotate(46.8)" font-size="7.5" fill="#111" dy="0">30°</text>
<text transform="translate(175.43,237.22) rotate(39.0)" font-size="7.5" fill="#111" dy="0">40°</text>
<text transform="translate(153.28,215.81) rotate(31.2)" font-size="7.5" fill="#111" dy="0">50°</text>
<text transform="translate(127.75,198.57) rotate(23.4)" font-size="7.5" fill="#111" dy="0">60°</text>
<text transform="translate(99.62,186.03) rotate(15.6)" font-size="7.5" fill="#111" dy="0">70°</text>
<text transform="translate(69.73,178.56) rotate(7.8)" font-size="7.5" fill="#111" dy="0">80°</text>
<text transform="translate(39.00,176.40) rotate(0.0)" font-size="7.5" fill="#111" dy="0">90°</text>
<path id="arcT" d="M104.43,172.80A190.8,190.8 0 0 1 221.06,287.22" fill="none"/>
<text font-size="10.4" fill="#3a3a3a"><textPath href="#arcT" textLength="168.8" lengthAdjust="spacing">Logic similarity to intended truth table</textPath></text>
<text x="133.00" y="376.50" font-size="10.6" text-anchor="middle" font-weight="normal" fill="#000" >Net Fold-change</text>
<circle cx="54.4" cy="339.6" r="2.5" fill="#0a8212" stroke="#0a1a0a" stroke-width="0.6"/>
<circle cx="57.0" cy="336.4" r="2.5" fill="#0a8212" stroke="#0a1a0a" stroke-width="0.6"/>
<circle cx="60.0" cy="337.6" r="2.5" fill="#0a8212" stroke="#0a1a0a" stroke-width="0.6"/>
<circle cx="60.0" cy="334.0" r="2.5" fill="#0a8212" stroke="#0a1a0a" stroke-width="0.6"/>
<circle cx="63.6" cy="332.4" r="2.5" fill="#0a8212" stroke="#0a1a0a" stroke-width="0.6"/>
<circle cx="65.0" cy="335.0" r="2.5" fill="#0a8212" stroke="#0a1a0a" stroke-width="0.6"/>
<circle cx="68.0" cy="336.0" r="2.5" fill="#0a8212" stroke="#0a1a0a" stroke-width="0.6"/>
<circle cx="71.0" cy="335.6" r="2.5" fill="#0a8212" stroke="#0a1a0a" stroke-width="0.6"/>
<circle cx="74.0" cy="335.4" r="2.5" fill="#0a8212" stroke="#0a1a0a" stroke-width="0.6"/>
<circle cx="78.0" cy="335.0" r="2.5" fill="#0a8212" stroke="#0a1a0a" stroke-width="0.6"/>
<circle cx="81.0" cy="334.6" r="2.5" fill="#0a8212" stroke="#0a1a0a" stroke-width="0.6"/>
<circle cx="83.0" cy="334.4" r="2.5" fill="#0a8212" stroke="#0a1a0a" stroke-width="0.6"/>
<circle cx="84.4" cy="334.2" r="2.5" fill="#0a8212" stroke="#0a1a0a" stroke-width="0.6"/>
<circle cx="91.0" cy="334.4" r="2.5" fill="#0a8212" stroke="#0a1a0a" stroke-width="0.6"/>
<circle cx="94.0" cy="334.2" r="2.5" fill="#0a8212" stroke="#0a1a0a" stroke-width="0.6"/>
<circle cx="98.0" cy="334.0" r="2.5" fill="#0a8212" stroke="#0a1a0a" stroke-width="0.6"/>
<circle cx="101.0" cy="334.0" r="2.5" fill="#0a8212" stroke="#0a1a0a" stroke-width="0.6"/>
<circle cx="105.0" cy="333.8" r="2.5" fill="#0a8212" stroke="#0a1a0a" stroke-width="0.6"/>
<circle cx="111.0" cy="333.8" r="2.5" fill="#0a8212" stroke="#0a1a0a" stroke-width="0.6"/>
<circle cx="115.0" cy="333.8" r="2.5" fill="#0a8212" stroke="#0a1a0a" stroke-width="0.6"/>
<circle cx="123.6" cy="333.6" r="2.5" fill="#0a8212" stroke="#0a1a0a" stroke-width="0.6"/>
<circle cx="129.0" cy="333.6" r="2.5" fill="#0a8212" stroke="#0a1a0a" stroke-width="0.6"/>
<circle cx="138.4" cy="333.4" r="2.5" fill="#0a8212" stroke="#0a1a0a" stroke-width="0.6"/>
<circle cx="151.4" cy="333.4" r="2.5" fill="#0a8212" stroke="#0a1a0a" stroke-width="0.6"/>
<circle cx="164.8" cy="333.2" r="2.5" fill="#0a8212" stroke="#0a1a0a" stroke-width="0.6"/>
<g transform="translate(11.40,398.90)">
<polygon points="19.2,34.8 21.4,28.6 23.6,20.3 25.8,16.4 28.8,15.5 33.0,15.8 37.2,16.8 42.4,13.8 45.9,12.7 49.9,13.8 51.6,18.1 52.5,23.8 55.5,28.6 58.6,33.0 58.2,40.0 55.5,46.2 51.2,49.7 45.0,48.8 42.4,51.4 38.9,53.2 35.0,53.6 33.6,51.4 35.5,49.0 31.9,46.2 27.5,43.5 21.4,41.8 19.2,39.2" fill="#c9c9c9" stroke="#b8b8b8" stroke-width="0.5" stroke-linejoin="round"/>
<path d="M29.4,33.5V13.35A3.45,3.45 0 0 1 36.3,13.35V33.5Z M36.3,35.5V47.4A3.6,3.6 0 0 0 43.5,47.4V35.5Z M43.5,33.5V20.8A3.5,3.5 0 0 1 50.5,20.8V33.5Z M50.5,35.5V43.4A3.6,3.6 0 0 0 57.7,43.4V35.5Z" fill="#ffffff" fill-opacity="0.85"/>
<path d="M29.40,14.00H36.30M29.40,16.45H36.30M29.40,18.90H36.30M29.40,21.35H36.30M29.40,23.80H36.30M29.40,26.25H36.30M29.40,28.70H36.30M29.40,31.15H36.30M29.40,33.60H36.30" stroke="#3b6cb4" stroke-width="0.95" fill="none"/>
<path d="M36.30,37.60H43.50M36.30,40.05H43.50M36.30,42.50H43.50M36.30,44.95H43.50M36.30,47.40H43.50" stroke="#3b6cb4" stroke-width="0.95" fill="none"/>
<path d="M43.50,21.40H50.50M43.50,23.85H50.50M43.50,26.30H50.50M43.50,28.75H50.50M43.50,31.20H50.50M43.50,33.65H50.50" stroke="#3b6cb4" stroke-width="0.95" fill="none"/>
<path d="M50.50,37.60H57.70M50.50,40.05H57.70M50.50,42.50H57.70M50.50,44.95H57.70" stroke="#3b6cb4" stroke-width="0.95" fill="none"/>
<path d="M19.6,35.5H27.6L29.4,33.6V13.35A3.45,3.45 0 0 1 36.3,13.35V47.4A3.6,3.6 0 0 0 43.5,47.4V20.8A3.5,3.5 0 0 1 50.5,20.8V43.4A3.6,3.6 0 0 0 57.7,43.4V35.5H63.2" fill="none" stroke="#3b6cb4" stroke-width="1.1" stroke-linejoin="round"/>
<path d="M15,35.5H19.8M63,35.5H65.5M92.4,35.5H96" stroke="#111" stroke-width="0.9" fill="none"/>
<path d="M12.9,35.5L15.4,34.2V36.8Z" fill="#111"/><circle cx="14.6" cy="35.5" r="1.0" fill="#111"/>
<rect x="65.4" y="31.4" width="27" height="8.2" fill="#151515"/>
<text transform="translate(78.9,38.9) scale(0.6,1)" font-size="9.2" font-weight="bold" text-anchor="middle" fill="#fff">Cas C</text>
<text transform="translate(97.5,38.1) scale(0.62,1)" font-size="7.3" font-weight="bold" fill="#111">AAAA</text>
<path d="M60,21.0H79V27.4M76,27.6H82" stroke="#222" stroke-width="0.85" fill="none"/>
</g>
<g transform="translate(11.40,482.70)">
<polygon points="19.2,34.8 21.4,28.6 23.6,20.3 25.8,16.4 28.8,15.5 33.0,15.8 37.2,16.8 42.4,13.8 45.9,12.7 49.9,13.8 51.6,18.1 52.5,23.8 55.5,28.6 58.6,33.0 58.2,40.0 55.5,46.2 51.2,49.7 45.0,48.8 42.4,51.4 38.9,53.2 35.0,53.6 33.6,51.4 35.5,49.0 31.9,46.2 27.5,43.5 21.4,41.8 19.2,39.2" fill="#e0e0e0" stroke="#b8b8b8" stroke-width="0.5" stroke-linejoin="round"/>
<path d="M29.4,33.5V13.35A3.45,3.45 0 0 1 36.3,13.35V33.5Z M36.3,35.5V47.4A3.6,3.6 0 0 0 43.5,47.4V35.5Z M43.5,33.5V20.8A3.5,3.5 0 0 1 50.5,20.8V33.5Z M50.5,35.5V43.4A3.6,3.6 0 0 0 57.7,43.4V35.5Z" fill="#ffffff" fill-opacity="0.85"/>
<path d="M29.40,14.00H36.30M29.40,16.45H36.30M29.40,18.90H36.30M29.40,21.35H36.30M29.40,23.80H36.30M29.40,26.25H36.30M29.40,28.70H36.30M29.40,31.15H36.30M29.40,33.60H36.30" stroke="#cf3a3d" stroke-width="0.95" fill="none"/>
<path d="M36.30,37.60H43.50M36.30,40.05H43.50M36.30,42.50H43.50M36.30,44.95H43.50M36.30,47.40H43.50" stroke="#cf3a3d" stroke-width="0.95" fill="none"/>
<path d="M43.50,21.40H50.50M43.50,23.85H50.50M43.50,26.30H50.50M43.50,28.75H50.50M43.50,31.20H50.50M43.50,33.65H50.50" stroke="#cf3a3d" stroke-width="0.95" fill="none"/>
<path d="M50.50,37.60H57.70M50.50,40.05H57.70M50.50,42.50H57.70M50.50,44.95H57.70" stroke="#cf3a3d" stroke-width="0.95" fill="none"/>
<path d="M19.6,35.5H27.6L29.4,33.6V13.35A3.45,3.45 0 0 1 36.3,13.35V47.4A3.6,3.6 0 0 0 43.5,47.4V20.8A3.5,3.5 0 0 1 50.5,20.8V43.4A3.6,3.6 0 0 0 57.7,43.4V35.5H63.2" fill="none" stroke="#cf3a3d" stroke-width="1.1" stroke-linejoin="round"/>
<path d="M15,35.5H19.8M63,35.5H65.5M92.4,35.5H96" stroke="#111" stroke-width="0.9" fill="none"/>
<path d="M12.9,35.5L15.4,34.2V36.8Z" fill="#111"/><circle cx="14.6" cy="35.5" r="1.0" fill="#111"/>
<rect x="65.4" y="31.4" width="27" height="8.2" fill="#151515"/>
<text transform="translate(78.9,38.9) scale(0.6,1)" font-size="9.2" font-weight="bold" text-anchor="middle" fill="#fff">Cas C</text>
<text transform="translate(97.5,38.1) scale(0.62,1)" font-size="7.3" font-weight="bold" fill="#111">AAAA</text>
<path d="M60,21.0H79V27.4M76,27.6H82" stroke="#222" stroke-width="0.85" fill="none"/>
</g>
<text x="22.60" y="464.00" font-size="11.0" text-anchor="start" font-weight="normal" fill="#000" >Input Cas A</text>
<text x="22.60" y="548.40" font-size="11.0" text-anchor="start" font-weight="normal" fill="#000" >Input Cas B</text>
<path d="M101,444L115,472.2H126M101,506.6L115,477.8H126" fill="none" stroke="#111" stroke-width="0.8"/>
<path d="M128.50,472.20L125.05,473.58L125.05,470.82Z" fill="#111"/>
<path d="M128.50,477.80L125.05,479.18L125.05,476.42Z" fill="#111"/>
<g transform="translate(12.60,399.50)">
<polygon points="127.0,63.7 123.0,72.5 122.2,82.1 124.6,90.1 131.1,95.8 135.9,93.4 143.1,90.1 147.1,84.5 152.7,80.5 153.5,72.5 151.1,65.3 145.5,66.1 139.1,69.3 136.7,64.5 132.0,62.5" fill="#e6e6e6" stroke="#bdbdbd" stroke-width="0.6" stroke-linejoin="round"/>
<path d="M130.3,85V63.2A3.2,3.2 0 0 1 136.7,63.2V85Z" fill="#fff" fill-opacity="0.85"/>
<path d="M130.30,64.20H136.70M130.30,66.50H136.70M130.30,68.80H136.70M130.30,71.10H136.70M130.30,73.40H136.70M130.30,75.70H136.70M130.30,78.00H136.70M130.30,80.30H136.70M130.30,82.60H136.70" stroke="#159a78" stroke-width="0.95" fill="none"/>
<path d="M129,85H130.3V63.2A3.2,3.2 0 0 1 136.7,63.2V85H156" fill="none" stroke="#159a78" stroke-width="1.1" stroke-linejoin="round"/>
<path d="M123,85H129.2M183,85.4H187" stroke="#111" stroke-width="0.9" fill="none"/>
<path d="M120.8,85L124.2,83.4V86.6Z" fill="#111"/>
<rect x="156" y="81.1" width="27" height="8.5" fill="#151515"/>
<text transform="translate(169.5,88.55) scale(0.63,1)" font-size="8.5" font-weight="bold" text-anchor="middle" fill="#fff">hBax</text>
<text transform="translate(188.2,88.0) scale(0.62,1)" font-size="7.3" font-weight="bold" fill="#111">AAAA</text>
<path d="M158.4,70.2H170.1V77.6M166.6,77.8H173.6" stroke="#333" stroke-width="0.8" fill="none"/>
</g>
<text x="150.90" y="506.60" font-size="10.9" text-anchor="middle" font-weight="normal" fill="#000" >Mediator</text>
<text x="150.80" y="518.20" font-size="10.9" text-anchor="middle" font-weight="normal" fill="#000" >Cas C</text>
<path d="M191.6,476L195.1,463.8H207" fill="none" stroke="#111" stroke-width="0.8"/>
<path d="M209.50,463.80L205.30,465.48L205.30,462.12Z" fill="#111"/>
<polygon points="227.0,452.8 234.8,462.9 227.7,472.9 215.9,469.4 215.8,457.0" fill="#101a2e" stroke="#0a0f1c" stroke-width="0.6" stroke-linejoin="round"/>
<text x="224.60" y="447.40" font-size="11.0" text-anchor="middle" font-weight="normal" fill="#000" >hBax</text>
<path d="M241.8,463.0H261" stroke="#111" stroke-width="1.4" fill="none"/>
<path d="M267.3,463.0L260.6,458.9V467.1Z" fill="#111"/>
<text x="271.20" y="466.40" font-size="10.9" text-anchor="start" font-weight="normal" fill="#000" >Apoptosis</text>
<rect x="476.4" y="522.3" width="41.2" height="21.9" fill="#e9abab"/>
<path d="M352.8,413.6H558.9V544.2H352.8Z M352.8,448.3H558.9 M352.8,431.4H476.4 M434.9,410.6V544.2 M476.4,411.1V544.2 M517.6,413.6V544.2" fill="none" stroke="#111" stroke-width="1.0"/>
<text x="373.20" y="401.20" font-size="8.9" text-anchor="middle" font-weight="normal" fill="#000" >Input</text>
<text x="373.20" y="409.50" font-size="8.9" text-anchor="middle" font-weight="normal" fill="#000" >Cas A</text>
<text x="414.50" y="401.20" font-size="8.9" text-anchor="middle" font-weight="normal" fill="#000" >Input</text>
<text x="414.50" y="409.50" font-size="8.9" text-anchor="middle" font-weight="normal" fill="#000" >Cas B</text>
<text x="455.60" y="401.20" font-size="8.9" text-anchor="middle" font-weight="normal" fill="#000" >Mediator</text>
<text x="455.60" y="409.50" font-size="8.9" text-anchor="middle" font-weight="normal" fill="#000" >Cas C</text>
<text x="496.50" y="405.00" font-size="8.9" text-anchor="middle" font-weight="normal" fill="#000" >Output</text>
<text x="538.00" y="405.00" font-size="8.9" text-anchor="middle" font-weight="normal" fill="#000" >Cell fate</text>
<text x="373.20" y="425.30" font-size="6.45" text-anchor="middle" font-weight="normal" fill="#000" >PguCas13b</text>
<text x="414.50" y="426.30" font-size="6.45" text-anchor="middle" font-weight="normal" fill="#000" >SaCas9</text>
<text x="455.60" y="425.60" font-size="6.45" text-anchor="middle" font-weight="normal" fill="#000" >PspCas13b</text>
<text x="373.20" y="441.90" font-size="6.45" text-anchor="middle" font-weight="normal" fill="#000" >PspCas13b</text>
<text x="414.50" y="442.70" font-size="6.45" text-anchor="middle" font-weight="normal" fill="#000" >SaCas9</text>
<text x="455.60" y="442.70" font-size="6.45" text-anchor="middle" font-weight="normal" fill="#000" >AkCas12b</text>
<text x="496.50" y="433.90" font-size="6.45" text-anchor="middle" font-weight="normal" fill="#000" >hBax</text>
<text x="373.20" y="467.30" font-size="11.0" text-anchor="middle" font-weight="normal" fill="#000" >0</text>
<text x="414.50" y="467.30" font-size="11.0" text-anchor="middle" font-weight="normal" fill="#000" >0</text>
<text x="455.60" y="467.30" font-size="11.0" text-anchor="middle" font-weight="normal" fill="#000" >1</text>
<text x="496.50" y="467.30" font-size="11.0" text-anchor="middle" font-weight="normal" fill="#000" >0</text>
<text x="538.00" y="467.30" font-size="11.0" text-anchor="middle" font-weight="normal" fill="#000" >Live</text>
<text x="373.20" y="490.70" font-size="11.0" text-anchor="middle" font-weight="normal" fill="#000" >0</text>
<text x="414.50" y="490.70" font-size="11.0" text-anchor="middle" font-weight="normal" fill="#000" >1</text>
<text x="455.60" y="490.70" font-size="11.0" text-anchor="middle" font-weight="normal" fill="#000" >1</text>
<text x="496.50" y="490.70" font-size="11.0" text-anchor="middle" font-weight="normal" fill="#000" >0</text>
<text x="538.00" y="490.70" font-size="11.0" text-anchor="middle" font-weight="normal" fill="#000" >Live</text>
<text x="373.20" y="513.90" font-size="11.0" text-anchor="middle" font-weight="normal" fill="#000" >1</text>
<text x="414.50" y="513.90" font-size="11.0" text-anchor="middle" font-weight="normal" fill="#000" >0</text>
<text x="455.60" y="513.90" font-size="11.0" text-anchor="middle" font-weight="normal" fill="#000" >1</text>
<text x="496.50" y="513.90" font-size="11.0" text-anchor="middle" font-weight="normal" fill="#000" >0</text>
<text x="538.00" y="513.90" font-size="11.0" text-anchor="middle" font-weight="normal" fill="#000" >Live</text>
<text x="373.20" y="536.90" font-size="11.0" text-anchor="middle" font-weight="normal" fill="#000" >1</text>
<text x="414.50" y="536.90" font-size="11.0" text-anchor="middle" font-weight="normal" fill="#000" >1</text>
<text x="455.60" y="536.90" font-size="11.0" text-anchor="middle" font-weight="normal" fill="#000" >0</text>
<text x="496.50" y="536.90" font-size="11.0" text-anchor="middle" font-weight="normal" fill="#000" >1</text>
<text x="538.00" y="536.90" font-size="11.0" text-anchor="middle" font-weight="normal" fill="#000" >Dead</text>
<rect x="49.60" y="597.00" width="225.00" height="132.70" fill="none" stroke="#111" stroke-width="1.0"/>
<line x1="47.20" y1="730.00" x2="49.60" y2="730.00" stroke="#111" stroke-width="0.8"/>
<text x="45.00" y="733.10" font-size="8.8" text-anchor="end" font-weight="normal" fill="#000" >0%</text>
<line x1="47.20" y1="711.00" x2="49.60" y2="711.00" stroke="#111" stroke-width="0.8"/>
<text x="45.00" y="714.10" font-size="8.8" text-anchor="end" font-weight="normal" fill="#000" >5%</text>
<line x1="47.20" y1="692.00" x2="49.60" y2="692.00" stroke="#111" stroke-width="0.8"/>
<text x="45.00" y="695.10" font-size="8.8" text-anchor="end" font-weight="normal" fill="#000" >10%</text>
<line x1="47.20" y1="673.00" x2="49.60" y2="673.00" stroke="#111" stroke-width="0.8"/>
<text x="45.00" y="676.10" font-size="8.8" text-anchor="end" font-weight="normal" fill="#000" >15%</text>
<line x1="47.20" y1="654.00" x2="49.60" y2="654.00" stroke="#111" stroke-width="0.8"/>
<text x="45.00" y="657.10" font-size="8.8" text-anchor="end" font-weight="normal" fill="#000" >20%</text>
<line x1="47.20" y1="635.00" x2="49.60" y2="635.00" stroke="#111" stroke-width="0.8"/>
<text x="45.00" y="638.10" font-size="8.8" text-anchor="end" font-weight="normal" fill="#000" >25%</text>
<line x1="47.20" y1="616.00" x2="49.60" y2="616.00" stroke="#111" stroke-width="0.8"/>
<text x="45.00" y="619.10" font-size="8.8" text-anchor="end" font-weight="normal" fill="#000" >30%</text>
<line x1="47.20" y1="597.00" x2="49.60" y2="597.00" stroke="#111" stroke-width="0.8"/>
<text x="45.00" y="600.10" font-size="8.8" text-anchor="end" font-weight="normal" fill="#000" >35%</text>
<text x="161.90" y="590.20" font-size="11.2" text-anchor="middle" font-weight="normal" fill="#000" >Pgu, Sa , Psp</text>
<text transform="translate(21.30,663.5) rotate(-90)" font-size="9.5" text-anchor="middle" fill="#111">% dead and apoptotic cells</text>
<rect x="59.00" y="606.4" width="13" height="12.6" fill="#fff" stroke="#111" stroke-width="0.8"/>
<rect x="59.00" y="627.9" width="13" height="12.6" fill="#cc3737" stroke="#111" stroke-width="0.8"/>
<text x="76.60" y="615.00" font-size="6.3" text-anchor="start" font-weight="normal" fill="#000" >Apoptotic cells</text>
<text x="76.60" y="636.60" font-size="6.3" text-anchor="start" font-weight="normal" fill="#000" >Dead cells</text>
<line x1="68.70" y1="729.70" x2="68.70" y2="732.30" stroke="#111" stroke-width="0.8"/>
<text x="68.70" y="748.80" font-size="9.0" text-anchor="middle" font-weight="normal" fill="#000" >[0,0]</text>
<rect x="60.70" y="716.40" width="8" height="13.30" fill="#fff" stroke="#111" stroke-width="0.8"/>
<path d="M64.70,722.40V710.01M62.90,710.01h3.6M62.90,722.40h3.6" stroke="#111" stroke-width="0.85" fill="none"/>
<circle cx="67.50" cy="709.21" r="1.25" fill="#fff" stroke="#111" stroke-width="0.7"/>
<circle cx="63.10" cy="718.40" r="1.1" fill="#fff" stroke="#111" stroke-width="0.7"/>
<path d="M64.70,718.80l1.5,2.6h-3z" fill="#fff" stroke="#111" stroke-width="0.5"/>
<rect x="68.70" y="720.99" width="8" height="8.71" fill="#cc3737" stroke="#111" stroke-width="0.8"/>
<path d="M72.70,726.01V714.99M70.90,714.99h3.6M70.90,726.01h3.6" stroke="#111" stroke-width="0.85" fill="none"/>
<circle cx="75.50" cy="714.19" r="1.25" fill="#fff" stroke="#111" stroke-width="0.7"/>
<circle cx="71.10" cy="722.99" r="1.1" fill="#fff" stroke="#111" stroke-width="0.7"/>
<path d="M72.70,722.41l1.5,2.6h-3z" fill="#fff" stroke="#111" stroke-width="0.5"/>
<line x1="99.85" y1="729.70" x2="99.85" y2="732.30" stroke="#111" stroke-width="0.8"/>
<text x="99.85" y="748.80" font-size="9.0" text-anchor="middle" font-weight="normal" fill="#000" >[1,0]</text>
<rect x="91.85" y="709.59" width="8" height="20.11" fill="#fff" stroke="#111" stroke-width="0.8"/>
<path d="M95.85,713.66V705.68M94.05,705.68h3.6M94.05,713.66h3.6" stroke="#111" stroke-width="0.85" fill="none"/>
<circle cx="98.65" cy="704.88" r="1.25" fill="#fff" stroke="#111" stroke-width="0.7"/>
<circle cx="94.25" cy="711.59" r="1.1" fill="#fff" stroke="#111" stroke-width="0.7"/>
<path d="M95.85,710.06l1.5,2.6h-3z" fill="#fff" stroke="#111" stroke-width="0.5"/>
<rect x="99.85" y="716.40" width="8" height="13.30" fill="#cc3737" stroke="#111" stroke-width="0.8"/>
<path d="M103.85,720.88V711.00M102.05,711.00h3.6M102.05,720.88h3.6" stroke="#111" stroke-width="0.85" fill="none"/>
<circle cx="106.65" cy="710.20" r="1.25" fill="#fff" stroke="#111" stroke-width="0.7"/>
<circle cx="102.25" cy="718.40" r="1.1" fill="#fff" stroke="#111" stroke-width="0.7"/>
<path d="M103.85,717.28l1.5,2.6h-3z" fill="#fff" stroke="#111" stroke-width="0.5"/>
<line x1="131.00" y1="729.70" x2="131.00" y2="732.30" stroke="#111" stroke-width="0.8"/>
<text x="131.00" y="748.80" font-size="9.0" text-anchor="middle" font-weight="normal" fill="#000" >[0,1]</text>
<rect x="123.00" y="714.04" width="8" height="15.66" fill="#fff" stroke="#111" stroke-width="0.8"/>
<path d="M127.00,721.91V705.79M125.20,705.79h3.6M125.20,721.91h3.6" stroke="#111" stroke-width="0.85" fill="none"/>
<circle cx="129.80" cy="704.99" r="1.25" fill="#fff" stroke="#111" stroke-width="0.7"/>
<circle cx="125.40" cy="716.04" r="1.1" fill="#fff" stroke="#111" stroke-width="0.7"/>
<path d="M127.00,718.31l1.5,2.6h-3z" fill="#fff" stroke="#111" stroke-width="0.5"/>
<rect x="131.00" y="719.21" width="8" height="10.49" fill="#cc3737" stroke="#111" stroke-width="0.8"/>
<path d="M135.00,726.31V711.91M133.20,711.91h3.6M133.20,726.31h3.6" stroke="#111" stroke-width="0.85" fill="none"/>
<circle cx="137.80" cy="711.11" r="1.25" fill="#fff" stroke="#111" stroke-width="0.7"/>
<circle cx="133.40" cy="721.21" r="1.1" fill="#fff" stroke="#111" stroke-width="0.7"/>
<path d="M135.00,722.71l1.5,2.6h-3z" fill="#fff" stroke="#111" stroke-width="0.5"/>
<line x1="162.15" y1="729.70" x2="162.15" y2="732.30" stroke="#111" stroke-width="0.8"/>
<text x="162.15" y="748.80" font-size="9.0" text-anchor="middle" font-weight="normal" fill="#000" >[1,1]</text>
<rect x="154.15" y="664.26" width="8" height="65.44" fill="#fff" stroke="#111" stroke-width="0.8"/>
<path d="M158.15,671.10V657.42M156.35,657.42h3.6M156.35,671.10h3.6" stroke="#111" stroke-width="0.85" fill="none"/>
<circle cx="160.95" cy="656.62" r="1.25" fill="#fff" stroke="#111" stroke-width="0.7"/>
<circle cx="156.55" cy="666.26" r="1.1" fill="#fff" stroke="#111" stroke-width="0.7"/>
<path d="M158.15,667.50l1.5,2.6h-3z" fill="#fff" stroke="#111" stroke-width="0.5"/>
<rect x="162.15" y="697.32" width="8" height="32.38" fill="#cc3737" stroke="#111" stroke-width="0.8"/>
<path d="M166.15,704.16V691.24M164.35,691.24h3.6M164.35,704.16h3.6" stroke="#111" stroke-width="0.85" fill="none"/>
<circle cx="168.95" cy="690.44" r="1.25" fill="#fff" stroke="#111" stroke-width="0.7"/>
<circle cx="164.55" cy="699.32" r="1.1" fill="#fff" stroke="#111" stroke-width="0.7"/>
<path d="M166.15,700.56l1.5,2.6h-3z" fill="#fff" stroke="#111" stroke-width="0.5"/>
<line x1="193.30" y1="729.70" x2="193.30" y2="732.30" stroke="#111" stroke-width="0.8"/>
<text x="193.30" y="744.20" font-size="9.0" text-anchor="middle" font-weight="normal" fill="#000" >hBax</text>
<text x="194.30" y="752.80" font-size="9.0" text-anchor="middle" font-weight="normal" fill="#000" >only</text>
<rect x="185.30" y="631.20" width="8" height="98.50" fill="#fff" stroke="#111" stroke-width="0.8"/>
<path d="M189.30,645.26V617.14M187.50,617.14h3.6M187.50,645.26h3.6" stroke="#111" stroke-width="0.85" fill="none"/>
<circle cx="192.10" cy="616.34" r="1.25" fill="#fff" stroke="#111" stroke-width="0.7"/>
<circle cx="187.70" cy="633.20" r="1.1" fill="#fff" stroke="#111" stroke-width="0.7"/>
<path d="M189.30,641.66l1.5,2.6h-3z" fill="#fff" stroke="#111" stroke-width="0.5"/>
<rect x="193.30" y="683.64" width="8" height="46.06" fill="#cc3737" stroke="#111" stroke-width="0.8"/>
<path d="M197.30,689.34V677.56M195.50,677.56h3.6M195.50,689.34h3.6" stroke="#111" stroke-width="0.85" fill="none"/>
<circle cx="200.10" cy="676.76" r="1.25" fill="#fff" stroke="#111" stroke-width="0.7"/>
<circle cx="195.70" cy="685.64" r="1.1" fill="#fff" stroke="#111" stroke-width="0.7"/>
<path d="M197.30,685.74l1.5,2.6h-3z" fill="#fff" stroke="#111" stroke-width="0.5"/>
<line x1="224.45" y1="729.70" x2="224.45" y2="732.30" stroke="#111" stroke-width="0.8"/>
<text x="225.25" y="748.80" font-size="9.0" text-anchor="middle" font-weight="normal" fill="#000" >Empty</text>
<rect x="216.45" y="714.42" width="8" height="15.28" fill="#fff" stroke="#111" stroke-width="0.8"/>
<path d="M220.45,716.70V712.90M218.65,712.90h3.6M218.65,716.70h3.6" stroke="#111" stroke-width="0.85" fill="none"/>
<circle cx="223.25" cy="712.10" r="1.25" fill="#fff" stroke="#111" stroke-width="0.7"/>
<circle cx="218.85" cy="716.42" r="1.1" fill="#fff" stroke="#111" stroke-width="0.7"/>
<path d="M220.45,713.10l1.5,2.6h-3z" fill="#fff" stroke="#111" stroke-width="0.5"/>
<rect x="224.45" y="719.21" width="8" height="10.49" fill="#cc3737" stroke="#111" stroke-width="0.8"/>
<path d="M228.45,720.88V717.46M226.65,717.46h3.6M226.65,720.88h3.6" stroke="#111" stroke-width="0.85" fill="none"/>
<circle cx="231.25" cy="716.66" r="1.25" fill="#fff" stroke="#111" stroke-width="0.7"/>
<circle cx="226.85" cy="721.21" r="1.1" fill="#fff" stroke="#111" stroke-width="0.7"/>
<path d="M228.45,717.28l1.5,2.6h-3z" fill="#fff" stroke="#111" stroke-width="0.5"/>
<line x1="255.60" y1="729.70" x2="255.60" y2="732.30" stroke="#111" stroke-width="0.8"/>
<text x="256.40" y="748.80" font-size="9.0" text-anchor="middle" font-weight="normal" fill="#000" >Mock</text>
<rect x="247.60" y="714.04" width="8" height="15.66" fill="#fff" stroke="#111" stroke-width="0.8"/>
<path d="M251.60,718.60V710.24M249.80,710.24h3.6M249.80,718.60h3.6" stroke="#111" stroke-width="0.85" fill="none"/>
<circle cx="254.40" cy="709.44" r="1.25" fill="#fff" stroke="#111" stroke-width="0.7"/>
<circle cx="250.00" cy="716.04" r="1.1" fill="#fff" stroke="#111" stroke-width="0.7"/>
<path d="M251.60,715.00l1.5,2.6h-3z" fill="#fff" stroke="#111" stroke-width="0.5"/>
<rect x="255.60" y="719.21" width="8" height="10.49" fill="#cc3737" stroke="#111" stroke-width="0.8"/>
<path d="M259.60,723.16V715.56M257.80,715.56h3.6M257.80,723.16h3.6" stroke="#111" stroke-width="0.85" fill="none"/>
<circle cx="262.40" cy="714.76" r="1.25" fill="#fff" stroke="#111" stroke-width="0.7"/>
<circle cx="258.00" cy="721.21" r="1.1" fill="#fff" stroke="#111" stroke-width="0.7"/>
<path d="M259.60,719.56l1.5,2.6h-3z" fill="#fff" stroke="#111" stroke-width="0.5"/>
<rect x="333.00" y="597.00" width="225.00" height="132.70" fill="none" stroke="#111" stroke-width="1.0"/>
<line x1="330.60" y1="730.00" x2="333.00" y2="730.00" stroke="#111" stroke-width="0.8"/>
<text x="328.40" y="733.10" font-size="8.8" text-anchor="end" font-weight="normal" fill="#000" >0%</text>
<line x1="330.60" y1="711.00" x2="333.00" y2="711.00" stroke="#111" stroke-width="0.8"/>
<text x="328.40" y="714.10" font-size="8.8" text-anchor="end" font-weight="normal" fill="#000" >5%</text>
<line x1="330.60" y1="692.00" x2="333.00" y2="692.00" stroke="#111" stroke-width="0.8"/>
<text x="328.40" y="695.10" font-size="8.8" text-anchor="end" font-weight="normal" fill="#000" >10%</text>
<line x1="330.60" y1="673.00" x2="333.00" y2="673.00" stroke="#111" stroke-width="0.8"/>
<text x="328.40" y="676.10" font-size="8.8" text-anchor="end" font-weight="normal" fill="#000" >15%</text>
<line x1="330.60" y1="654.00" x2="333.00" y2="654.00" stroke="#111" stroke-width="0.8"/>
<text x="328.40" y="657.10" font-size="8.8" text-anchor="end" font-weight="normal" fill="#000" >20%</text>
<line x1="330.60" y1="635.00" x2="333.00" y2="635.00" stroke="#111" stroke-width="0.8"/>
<text x="328.40" y="638.10" font-size="8.8" text-anchor="end" font-weight="normal" fill="#000" >25%</text>
<line x1="330.60" y1="616.00" x2="333.00" y2="616.00" stroke="#111" stroke-width="0.8"/>
<text x="328.40" y="619.10" font-size="8.8" text-anchor="end" font-weight="normal" fill="#000" >30%</text>
<line x1="330.60" y1="597.00" x2="333.00" y2="597.00" stroke="#111" stroke-width="0.8"/>
<text x="328.40" y="600.10" font-size="8.8" text-anchor="end" font-weight="normal" fill="#000" >35%</text>
<text x="445.20" y="590.20" font-size="11.2" text-anchor="middle" font-weight="normal" fill="#000" >Psp, Sa , Ak</text>
<text transform="translate(304.70,663.5) rotate(-90)" font-size="9.5" text-anchor="middle" fill="#111">% dead and apoptotic cells</text>
<rect x="343.40" y="606.4" width="13" height="12.6" fill="#fff" stroke="#111" stroke-width="0.8"/>
<rect x="343.40" y="627.9" width="13" height="12.6" fill="#cc3737" stroke="#111" stroke-width="0.8"/>
<text x="361.00" y="615.00" font-size="6.3" text-anchor="start" font-weight="normal" fill="#000" >Apoptotic cells</text>
<text x="361.00" y="636.60" font-size="6.3" text-anchor="start" font-weight="normal" fill="#000" >Dead cells</text>
<line x1="352.10" y1="729.70" x2="352.10" y2="732.30" stroke="#111" stroke-width="0.8"/>
<text x="352.10" y="748.80" font-size="9.0" text-anchor="middle" font-weight="normal" fill="#000" >[0,0]</text>
<rect x="344.10" y="708.72" width="8" height="20.98" fill="#fff" stroke="#111" stroke-width="0.8"/>
<path d="M348.10,714.42V702.64M346.30,702.64h3.6M346.30,714.42h3.6" stroke="#111" stroke-width="0.85" fill="none"/>
<circle cx="350.90" cy="701.84" r="1.25" fill="#fff" stroke="#111" stroke-width="0.7"/>
<circle cx="346.50" cy="710.72" r="1.1" fill="#fff" stroke="#111" stroke-width="0.7"/>
<path d="M348.10,710.82l1.5,2.6h-3z" fill="#fff" stroke="#111" stroke-width="0.5"/>
<rect x="352.10" y="717.46" width="8" height="12.24" fill="#cc3737" stroke="#111" stroke-width="0.8"/>
<path d="M356.10,722.02V711.91M354.30,711.91h3.6M354.30,722.02h3.6" stroke="#111" stroke-width="0.85" fill="none"/>
<circle cx="358.90" cy="711.11" r="1.25" fill="#fff" stroke="#111" stroke-width="0.7"/>
<circle cx="354.50" cy="719.46" r="1.1" fill="#fff" stroke="#111" stroke-width="0.7"/>
<path d="M356.10,718.42l1.5,2.6h-3z" fill="#fff" stroke="#111" stroke-width="0.5"/>
<line x1="383.25" y1="729.70" x2="383.25" y2="732.30" stroke="#111" stroke-width="0.8"/>
<text x="383.25" y="748.80" font-size="9.0" text-anchor="middle" font-weight="normal" fill="#000" >[1,0]</text>
<rect x="375.25" y="700.36" width="8" height="29.34" fill="#fff" stroke="#111" stroke-width="0.8"/>
<path d="M379.25,708.49V691.62M377.45,691.62h3.6M377.45,708.49h3.6" stroke="#111" stroke-width="0.85" fill="none"/>
<circle cx="382.05" cy="690.82" r="1.25" fill="#fff" stroke="#111" stroke-width="0.7"/>
<circle cx="377.65" cy="702.36" r="1.1" fill="#fff" stroke="#111" stroke-width="0.7"/>
<path d="M379.25,704.89l1.5,2.6h-3z" fill="#fff" stroke="#111" stroke-width="0.5"/>
<rect x="383.25" y="713.28" width="8" height="16.42" fill="#cc3737" stroke="#111" stroke-width="0.8"/>
<path d="M387.25,717.84V708.49M385.45,708.49h3.6M385.45,717.84h3.6" stroke="#111" stroke-width="0.85" fill="none"/>
<circle cx="390.05" cy="707.69" r="1.25" fill="#fff" stroke="#111" stroke-width="0.7"/>
<circle cx="385.65" cy="715.28" r="1.1" fill="#fff" stroke="#111" stroke-width="0.7"/>
<path d="M387.25,714.24l1.5,2.6h-3z" fill="#fff" stroke="#111" stroke-width="0.5"/>
<line x1="414.40" y1="729.70" x2="414.40" y2="732.30" stroke="#111" stroke-width="0.8"/>
<text x="414.40" y="748.80" font-size="9.0" text-anchor="middle" font-weight="normal" fill="#000" >[0,1]</text>
<rect x="406.40" y="704.54" width="8" height="25.16" fill="#fff" stroke="#111" stroke-width="0.8"/>
<path d="M410.40,709.48V698.84M408.60,698.84h3.6M408.60,709.48h3.6" stroke="#111" stroke-width="0.85" fill="none"/>
<circle cx="413.20" cy="698.04" r="1.25" fill="#fff" stroke="#111" stroke-width="0.7"/>
<circle cx="408.80" cy="706.54" r="1.1" fill="#fff" stroke="#111" stroke-width="0.7"/>
<path d="M410.40,705.88l1.5,2.6h-3z" fill="#fff" stroke="#111" stroke-width="0.5"/>
<rect x="414.40" y="715.94" width="8" height="13.76" fill="#cc3737" stroke="#111" stroke-width="0.8"/>
<path d="M418.40,719.21V711.91M416.60,711.91h3.6M416.60,719.21h3.6" stroke="#111" stroke-width="0.85" fill="none"/>
<circle cx="421.20" cy="711.11" r="1.25" fill="#fff" stroke="#111" stroke-width="0.7"/>
<circle cx="416.80" cy="717.94" r="1.1" fill="#fff" stroke="#111" stroke-width="0.7"/>
<path d="M418.40,715.61l1.5,2.6h-3z" fill="#fff" stroke="#111" stroke-width="0.5"/>
<line x1="445.55" y1="729.70" x2="445.55" y2="732.30" stroke="#111" stroke-width="0.8"/>
<text x="445.55" y="748.80" font-size="9.0" text-anchor="middle" font-weight="normal" fill="#000" >[1,1]</text>
<rect x="437.55" y="655.52" width="8" height="74.18" fill="#fff" stroke="#111" stroke-width="0.8"/>
<path d="M441.55,671.10V638.80M439.75,638.80h3.6M439.75,671.10h3.6" stroke="#111" stroke-width="0.85" fill="none"/>
<circle cx="444.35" cy="638.00" r="1.25" fill="#fff" stroke="#111" stroke-width="0.7"/>
<circle cx="439.95" cy="657.52" r="1.1" fill="#fff" stroke="#111" stroke-width="0.7"/>
<path d="M441.55,667.50l1.5,2.6h-3z" fill="#fff" stroke="#111" stroke-width="0.5"/>
<rect x="445.55" y="690.86" width="8" height="38.84" fill="#cc3737" stroke="#111" stroke-width="0.8"/>
<path d="M449.55,701.50V680.41M447.75,680.41h3.6M447.75,701.50h3.6" stroke="#111" stroke-width="0.85" fill="none"/>
<circle cx="452.35" cy="679.61" r="1.25" fill="#fff" stroke="#111" stroke-width="0.7"/>
<circle cx="447.95" cy="692.86" r="1.1" fill="#fff" stroke="#111" stroke-width="0.7"/>
<path d="M449.55,697.90l1.5,2.6h-3z" fill="#fff" stroke="#111" stroke-width="0.5"/>
<line x1="476.70" y1="729.70" x2="476.70" y2="732.30" stroke="#111" stroke-width="0.8"/>
<text x="476.70" y="744.20" font-size="9.0" text-anchor="middle" font-weight="normal" fill="#000" >hBax</text>
<text x="477.70" y="752.80" font-size="9.0" text-anchor="middle" font-weight="normal" fill="#000" >only</text>
<rect x="468.70" y="666.92" width="8" height="62.78" fill="#fff" stroke="#111" stroke-width="0.8"/>
<path d="M472.70,679.08V654.00M470.90,654.00h3.6M470.90,679.08h3.6" stroke="#111" stroke-width="0.85" fill="none"/>
<circle cx="475.50" cy="653.20" r="1.25" fill="#fff" stroke="#111" stroke-width="0.7"/>
<circle cx="471.10" cy="668.92" r="1.1" fill="#fff" stroke="#111" stroke-width="0.7"/>
<path d="M472.70,675.48l1.5,2.6h-3z" fill="#fff" stroke="#111" stroke-width="0.5"/>
<rect x="476.70" y="699.60" width="8" height="30.10" fill="#cc3737" stroke="#111" stroke-width="0.8"/>
<path d="M480.70,709.48V690.48M478.90,690.48h3.6M478.90,709.48h3.6" stroke="#111" stroke-width="0.85" fill="none"/>
<circle cx="483.50" cy="689.68" r="1.25" fill="#fff" stroke="#111" stroke-width="0.7"/>
<circle cx="479.10" cy="701.60" r="1.1" fill="#fff" stroke="#111" stroke-width="0.7"/>
<path d="M480.70,705.88l1.5,2.6h-3z" fill="#fff" stroke="#111" stroke-width="0.5"/>
<line x1="507.85" y1="729.70" x2="507.85" y2="732.30" stroke="#111" stroke-width="0.8"/>
<text x="508.65" y="748.80" font-size="9.0" text-anchor="middle" font-weight="normal" fill="#000" >Empty</text>
<rect x="499.85" y="716.32" width="8" height="13.38" fill="#fff" stroke="#111" stroke-width="0.8"/>
<path d="M503.85,722.02V709.86M502.05,709.86h3.6M502.05,722.02h3.6" stroke="#111" stroke-width="0.85" fill="none"/>
<circle cx="506.65" cy="709.06" r="1.25" fill="#fff" stroke="#111" stroke-width="0.7"/>
<circle cx="502.25" cy="718.32" r="1.1" fill="#fff" stroke="#111" stroke-width="0.7"/>
<path d="M503.85,718.42l1.5,2.6h-3z" fill="#fff" stroke="#111" stroke-width="0.5"/>
<rect x="507.85" y="720.12" width="8" height="9.58" fill="#cc3737" stroke="#111" stroke-width="0.8"/>
<path d="M511.85,725.06V714.42M510.05,714.42h3.6M510.05,725.06h3.6" stroke="#111" stroke-width="0.85" fill="none"/>
<circle cx="514.65" cy="713.62" r="1.25" fill="#fff" stroke="#111" stroke-width="0.7"/>
<circle cx="510.25" cy="722.12" r="1.1" fill="#fff" stroke="#111" stroke-width="0.7"/>
<path d="M511.85,721.46l1.5,2.6h-3z" fill="#fff" stroke="#111" stroke-width="0.5"/>
<line x1="539.00" y1="729.70" x2="539.00" y2="732.30" stroke="#111" stroke-width="0.8"/>
<text x="539.80" y="748.80" font-size="9.0" text-anchor="middle" font-weight="normal" fill="#000" >Mock</text>
<rect x="531.00" y="714.42" width="8" height="15.28" fill="#fff" stroke="#111" stroke-width="0.8"/>
<path d="M535.00,721.26V710.62M533.20,710.62h3.6M533.20,721.26h3.6" stroke="#111" stroke-width="0.85" fill="none"/>
<circle cx="537.80" cy="709.82" r="1.25" fill="#fff" stroke="#111" stroke-width="0.7"/>
<circle cx="533.40" cy="716.42" r="1.1" fill="#fff" stroke="#111" stroke-width="0.7"/>
<path d="M535.00,717.66l1.5,2.6h-3z" fill="#fff" stroke="#111" stroke-width="0.5"/>
<rect x="539.00" y="719.36" width="8" height="10.34" fill="#cc3737" stroke="#111" stroke-width="0.8"/>
<path d="M543.00,723.54V715.94M541.20,715.94h3.6M541.20,723.54h3.6" stroke="#111" stroke-width="0.85" fill="none"/>
<circle cx="545.80" cy="715.14" r="1.25" fill="#fff" stroke="#111" stroke-width="0.7"/>
<circle cx="541.40" cy="721.36" r="1.1" fill="#fff" stroke="#111" stroke-width="0.7"/>
<path d="M543.00,719.94l1.5,2.6h-3z" fill="#fff" stroke="#111" stroke-width="0.5"/>
</svg></body></html>
